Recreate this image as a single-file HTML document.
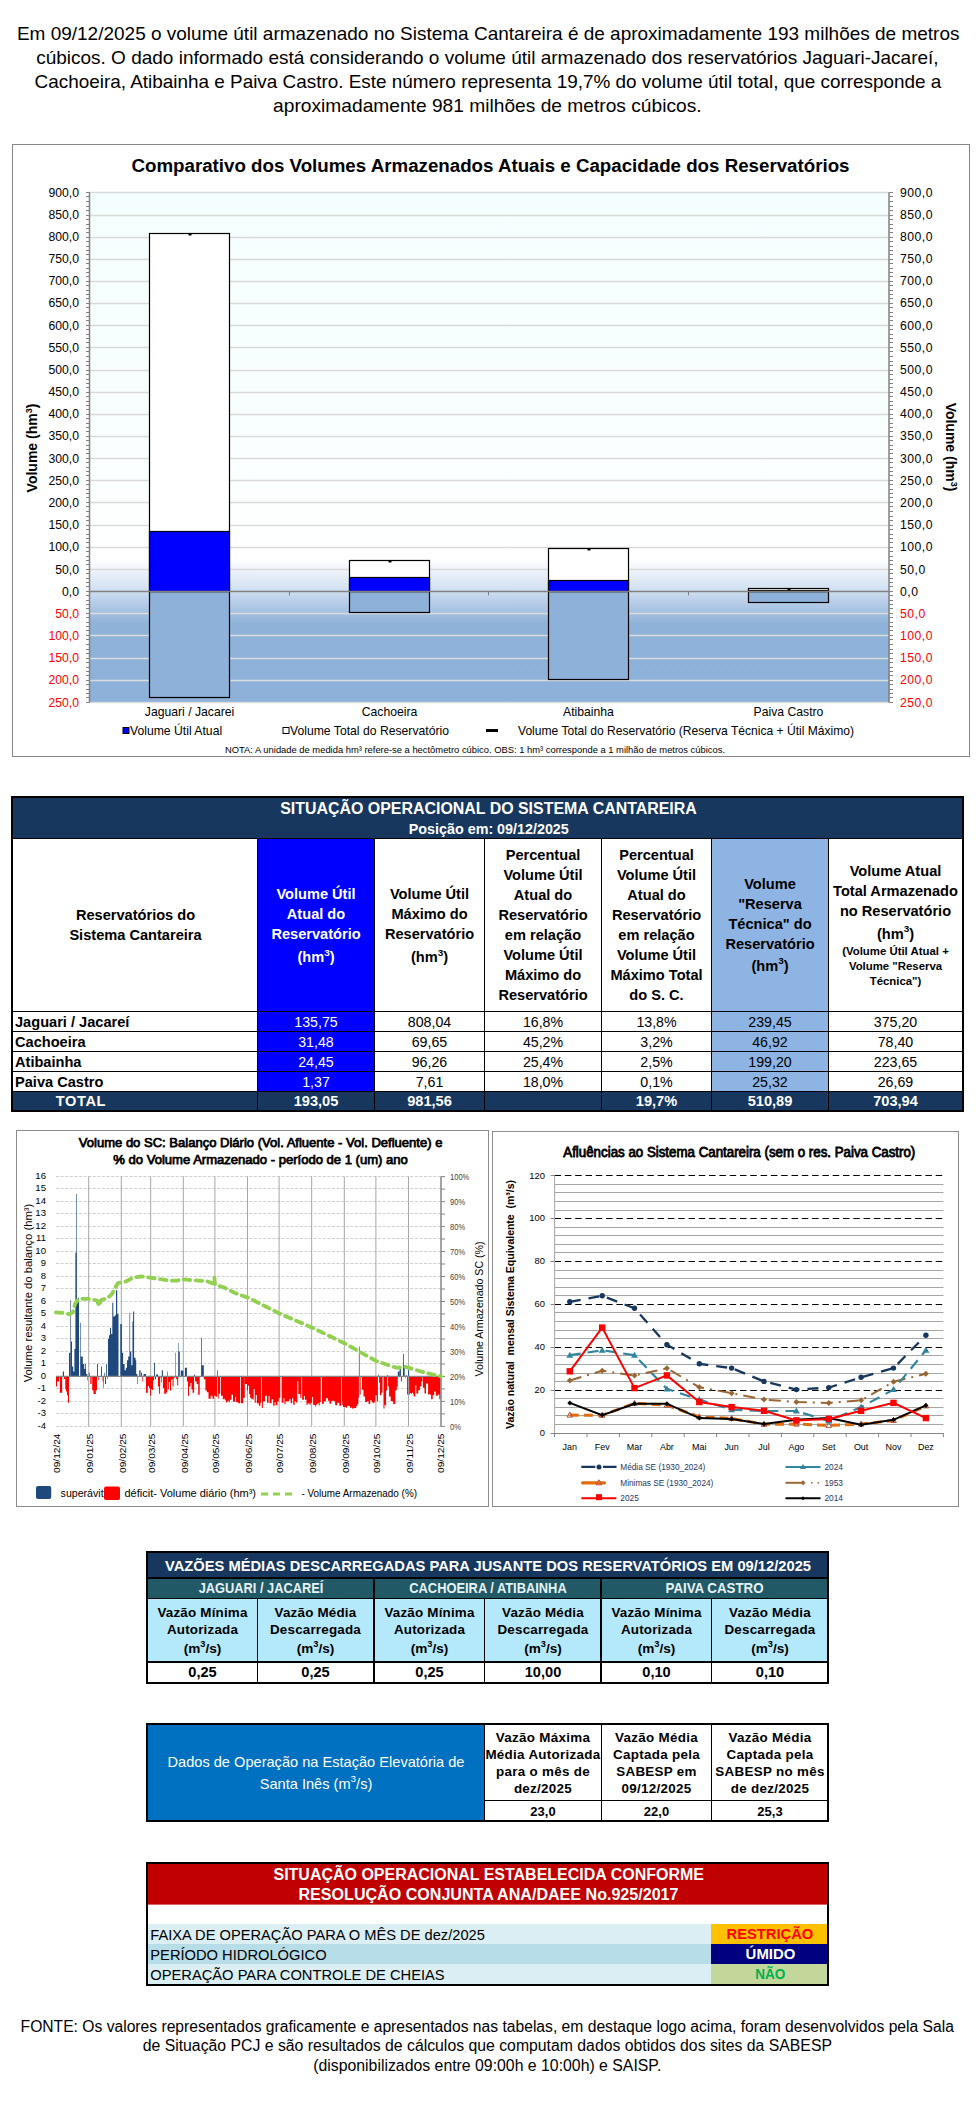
<!DOCTYPE html>
<html><head><meta charset="utf-8"><title>Cantareira</title>
<style>
html,body{margin:0;padding:0;background:#fff;}
body{width:976px;height:2126px;position:relative;overflow:hidden;font-family:"Liberation Sans",sans-serif;color:#000;}
.a{position:absolute;white-space:nowrap;}
.c{text-align:center;}
.b{font-weight:bold;}
svg{position:absolute;overflow:visible;}
sup{font-size:65%;vertical-align:top;position:relative;top:-1px;}
</style></head><body>

<svg style="left:0;top:0" width="976" height="130" viewBox="0 0 976 130" font-family="Liberation Sans">
<text x="16.9" y="39.6" font-size="19.00" textLength="942.6" lengthAdjust="spacingAndGlyphs">Em 09/12/2025 o volume útil armazenado no Sistema Cantareira é de aproximadamente 193 milhões de metros</text>
<text x="36.2" y="63.7" font-size="19.00" textLength="902.4" lengthAdjust="spacingAndGlyphs">cúbicos. O dado informado está considerando o volume útil armazenado dos reservatórios Jaguari-Jacareí,</text>
<text x="34.6" y="87.6" font-size="19.00" textLength="906.7" lengthAdjust="spacingAndGlyphs">Cachoeira, Atibainha e Paiva Castro. Este número representa 19,7% do volume útil total, que corresponde a</text>
<text x="273.1" y="111.5" font-size="19.00" textLength="428.5" lengthAdjust="spacingAndGlyphs">aproximadamente 981 milhões de metros cúbicos.</text>
</svg>
<svg style="left:0;top:130px" width="976" height="640" viewBox="0 130 976 640">
<defs><linearGradient id="g1" x1="0" y1="0" x2="0" y2="1" gradientUnits="objectBoundingBox">
<stop offset="0" stop-color="#f3fcff"/><stop offset="0.72" stop-color="#fdfeff"/>
<stop offset="0.78" stop-color="#eef3fa"/><stop offset="0.78" stop-color="#eef3fa"/>
<stop offset="0.785" stop-color="#c9daee"/><stop offset="0.86" stop-color="#8db1d8"/><stop offset="1" stop-color="#8db1d8"/>
</linearGradient></defs>
<rect x="12.5" y="144.5" width="957" height="612" fill="#fff" stroke="#868686" stroke-width="1"/>
<defs><linearGradient id="gt" x1="0" y1="192.3" x2="0" y2="702.4" gradientUnits="userSpaceOnUse">
<stop offset="0.0000" stop-color="#f5fefe"/>
<stop offset="0.4072" stop-color="#f8fefe"/>
<stop offset="0.7169" stop-color="#ffffff"/>
<stop offset="0.7326" stop-color="#f4f7fc"/>
<stop offset="0.7816" stop-color="#cfdff0"/>
<stop offset="0.7993" stop-color="#bcd0ea"/>
<stop offset="0.8463" stop-color="#8eb2d8"/>
<stop offset="1.0000" stop-color="#8db1d8"/>
</linearGradient></defs>
<rect x="89.5" y="192.3" width="800" height="510.1" fill="url(#gt)"/>
<line x1="89.5" x2="889.5" y1="192.5" y2="192.5" stroke="#d9d9d9" stroke-width="1.3"/>
<line x1="89.5" x2="889.5" y1="215.5" y2="215.5" stroke="#d9d9d9" stroke-width="1.3"/>
<line x1="89.5" x2="889.5" y1="237.5" y2="237.5" stroke="#d9d9d9" stroke-width="1.3"/>
<line x1="89.5" x2="889.5" y1="259.5" y2="259.5" stroke="#d9d9d9" stroke-width="1.3"/>
<line x1="89.5" x2="889.5" y1="281.5" y2="281.5" stroke="#d9d9d9" stroke-width="1.3"/>
<line x1="89.5" x2="889.5" y1="303.5" y2="303.5" stroke="#d9d9d9" stroke-width="1.3"/>
<line x1="89.5" x2="889.5" y1="325.5" y2="325.5" stroke="#d9d9d9" stroke-width="1.3"/>
<line x1="89.5" x2="889.5" y1="347.5" y2="347.5" stroke="#d9d9d9" stroke-width="1.3"/>
<line x1="89.5" x2="889.5" y1="370.5" y2="370.5" stroke="#d9d9d9" stroke-width="1.3"/>
<line x1="89.5" x2="889.5" y1="392.5" y2="392.5" stroke="#d9d9d9" stroke-width="1.3"/>
<line x1="89.5" x2="889.5" y1="414.5" y2="414.5" stroke="#d9d9d9" stroke-width="1.3"/>
<line x1="89.5" x2="889.5" y1="436.5" y2="436.5" stroke="#d9d9d9" stroke-width="1.3"/>
<line x1="89.5" x2="889.5" y1="458.5" y2="458.5" stroke="#d9d9d9" stroke-width="1.3"/>
<line x1="89.5" x2="889.5" y1="480.5" y2="480.5" stroke="#d9d9d9" stroke-width="1.3"/>
<line x1="89.5" x2="889.5" y1="502.5" y2="502.5" stroke="#d9d9d9" stroke-width="1.3"/>
<line x1="89.5" x2="889.5" y1="525.5" y2="525.5" stroke="#d9d9d9" stroke-width="1.3"/>
<line x1="89.5" x2="889.5" y1="547.5" y2="547.5" stroke="#d9d9d9" stroke-width="1.3"/>
<line x1="89.5" x2="889.5" y1="569.5" y2="569.5" stroke="#d9d9d9" stroke-width="1.3"/>
<line x1="89.5" x2="889.5" y1="613.5" y2="613.5" stroke="#dcdcdc" stroke-width="1.3"/>
<line x1="89.5" x2="889.5" y1="635.5" y2="635.5" stroke="#dcdcdc" stroke-width="1.3"/>
<line x1="89.5" x2="889.5" y1="658.5" y2="658.5" stroke="#dcdcdc" stroke-width="1.3"/>
<line x1="89.5" x2="889.5" y1="680.5" y2="680.5" stroke="#dcdcdc" stroke-width="1.3"/>
<line x1="89.5" x2="889.5" y1="702.5" y2="702.5" stroke="#dcdcdc" stroke-width="1.3"/>
<rect x="149.5" y="591.5" width="80" height="106.0" fill="#8db1d8" stroke="#000" stroke-width="1.2"/>
<rect x="149.5" y="233.5" width="80" height="358.0" fill="#fff" stroke="#000" stroke-width="1.2"/>
<rect x="149.5" y="531.5" width="80" height="60.0" fill="#0000ff" stroke="#000" stroke-width="1.2"/>
<path d="M188.5 233.5h3v2h-3z" fill="#000"/>
<rect x="349.5" y="591.5" width="80" height="21.0" fill="#8db1d8" stroke="#000" stroke-width="1.2"/>
<rect x="349.5" y="560.5" width="80" height="31.0" fill="#fff" stroke="#000" stroke-width="1.2"/>
<rect x="349.5" y="577.5" width="80" height="14.0" fill="#0000ff" stroke="#000" stroke-width="1.2"/>
<path d="M388.5 560.5h3v2h-3z" fill="#000"/>
<rect x="548.5" y="591.5" width="80" height="88.0" fill="#8db1d8" stroke="#000" stroke-width="1.2"/>
<rect x="548.5" y="548.5" width="80" height="43.0" fill="#fff" stroke="#000" stroke-width="1.2"/>
<rect x="548.5" y="580.5" width="80" height="11.0" fill="#0000ff" stroke="#000" stroke-width="1.2"/>
<path d="M587.5 548.5h3v2h-3z" fill="#000"/>
<rect x="748.5" y="591.5" width="80" height="11.0" fill="#8db1d8" stroke="#000" stroke-width="1.2"/>
<rect x="748.5" y="588.5" width="80" height="3.0" fill="#fff" stroke="#000" stroke-width="1.2"/>
<rect x="748.5" y="590.5" width="80" height="1.0" fill="#0000ff" stroke="#000" stroke-width="1.2"/>
<path d="M787.5 588.5h3v2h-3z" fill="#000"/>
<line x1="89.5" x2="889.5" y1="591.5" y2="591.5" stroke="#808080" stroke-width="1.5"/>
<line x1="289.5" x2="289.5" y1="591.5" y2="595.5" stroke="#808080" stroke-width="1"/>
<line x1="488.5" x2="488.5" y1="591.5" y2="595.5" stroke="#808080" stroke-width="1"/>
<line x1="688.5" x2="688.5" y1="591.5" y2="595.5" stroke="#808080" stroke-width="1"/>
<line x1="89.5" x2="89.5" y1="192.3" y2="702.4" stroke="#808080" stroke-width="1.5"/>
<line x1="889" x2="889" y1="192.3" y2="702.4" stroke="#808080" stroke-width="1.5"/>
<path d="M86 192.5h3.5M889.5 192.5h3.5M86 196.5h3.5M889.5 196.5h3.5M86 201.5h3.5M889.5 201.5h3.5M86 206.5h3.5M889.5 206.5h3.5M86 210.5h3.5M889.5 210.5h3.5M86 215.5h3.5M889.5 215.5h3.5M86 219.5h3.5M889.5 219.5h3.5M86 224.5h3.5M889.5 224.5h3.5M86 228.5h3.5M889.5 228.5h3.5M86 232.5h3.5M889.5 232.5h3.5M86 237.5h3.5M889.5 237.5h3.5M86 241.5h3.5M889.5 241.5h3.5M86 246.5h3.5M889.5 246.5h3.5M86 250.5h3.5M889.5 250.5h3.5M86 254.5h3.5M889.5 254.5h3.5M86 259.5h3.5M889.5 259.5h3.5M86 263.5h3.5M889.5 263.5h3.5M86 268.5h3.5M889.5 268.5h3.5M86 272.5h3.5M889.5 272.5h3.5M86 276.5h3.5M889.5 276.5h3.5M86 281.5h3.5M889.5 281.5h3.5M86 285.5h3.5M889.5 285.5h3.5M86 290.5h3.5M889.5 290.5h3.5M86 294.5h3.5M889.5 294.5h3.5M86 298.5h3.5M889.5 298.5h3.5M86 303.5h3.5M889.5 303.5h3.5M86 307.5h3.5M889.5 307.5h3.5M86 312.5h3.5M889.5 312.5h3.5M86 316.5h3.5M889.5 316.5h3.5M86 320.5h3.5M889.5 320.5h3.5M86 325.5h3.5M889.5 325.5h3.5M86 329.5h3.5M889.5 329.5h3.5M86 334.5h3.5M889.5 334.5h3.5M86 338.5h3.5M889.5 338.5h3.5M86 342.5h3.5M889.5 342.5h3.5M86 347.5h3.5M889.5 347.5h3.5M86 351.5h3.5M889.5 351.5h3.5M86 356.5h3.5M889.5 356.5h3.5M86 361.5h3.5M889.5 361.5h3.5M86 365.5h3.5M889.5 365.5h3.5M86 370.5h3.5M889.5 370.5h3.5M86 374.5h3.5M889.5 374.5h3.5M86 379.5h3.5M889.5 379.5h3.5M86 383.5h3.5M889.5 383.5h3.5M86 387.5h3.5M889.5 387.5h3.5M86 392.5h3.5M889.5 392.5h3.5M86 396.5h3.5M889.5 396.5h3.5M86 401.5h3.5M889.5 401.5h3.5M86 405.5h3.5M889.5 405.5h3.5M86 409.5h3.5M889.5 409.5h3.5M86 414.5h3.5M889.5 414.5h3.5M86 418.5h3.5M889.5 418.5h3.5M86 423.5h3.5M889.5 423.5h3.5M86 427.5h3.5M889.5 427.5h3.5M86 431.5h3.5M889.5 431.5h3.5M86 436.5h3.5M889.5 436.5h3.5M86 440.5h3.5M889.5 440.5h3.5M86 445.5h3.5M889.5 445.5h3.5M86 449.5h3.5M889.5 449.5h3.5M86 453.5h3.5M889.5 453.5h3.5M86 458.5h3.5M889.5 458.5h3.5M86 462.5h3.5M889.5 462.5h3.5M86 467.5h3.5M889.5 467.5h3.5M86 471.5h3.5M889.5 471.5h3.5M86 475.5h3.5M889.5 475.5h3.5M86 480.5h3.5M889.5 480.5h3.5M86 484.5h3.5M889.5 484.5h3.5M86 489.5h3.5M889.5 489.5h3.5M86 493.5h3.5M889.5 493.5h3.5M86 497.5h3.5M889.5 497.5h3.5M86 502.5h3.5M889.5 502.5h3.5M86 506.5h3.5M889.5 506.5h3.5M86 511.5h3.5M889.5 511.5h3.5M86 516.5h3.5M889.5 516.5h3.5M86 520.5h3.5M889.5 520.5h3.5M86 525.5h3.5M889.5 525.5h3.5M86 529.5h3.5M889.5 529.5h3.5M86 534.5h3.5M889.5 534.5h3.5M86 538.5h3.5M889.5 538.5h3.5M86 542.5h3.5M889.5 542.5h3.5M86 547.5h3.5M889.5 547.5h3.5M86 551.5h3.5M889.5 551.5h3.5M86 556.5h3.5M889.5 556.5h3.5M86 560.5h3.5M889.5 560.5h3.5M86 564.5h3.5M889.5 564.5h3.5M86 569.5h3.5M889.5 569.5h3.5M86 573.5h3.5M889.5 573.5h3.5M86 578.5h3.5M889.5 578.5h3.5M86 582.5h3.5M889.5 582.5h3.5M86 586.5h3.5M889.5 586.5h3.5M86 591.5h3.5M889.5 591.5h3.5M86 595.5h3.5M889.5 595.5h3.5M86 600.5h3.5M889.5 600.5h3.5M86 604.5h3.5M889.5 604.5h3.5M86 608.5h3.5M889.5 608.5h3.5M86 613.5h3.5M889.5 613.5h3.5M86 617.5h3.5M889.5 617.5h3.5M86 622.5h3.5M889.5 622.5h3.5M86 626.5h3.5M889.5 626.5h3.5M86 630.5h3.5M889.5 630.5h3.5M86 635.5h3.5M889.5 635.5h3.5M86 639.5h3.5M889.5 639.5h3.5M86 644.5h3.5M889.5 644.5h3.5M86 649.5h3.5M889.5 649.5h3.5M86 653.5h3.5M889.5 653.5h3.5M86 658.5h3.5M889.5 658.5h3.5M86 662.5h3.5M889.5 662.5h3.5M86 667.5h3.5M889.5 667.5h3.5M86 671.5h3.5M889.5 671.5h3.5M86 675.5h3.5M889.5 675.5h3.5M86 680.5h3.5M889.5 680.5h3.5M86 684.5h3.5M889.5 684.5h3.5M86 689.5h3.5M889.5 689.5h3.5M86 693.5h3.5M889.5 693.5h3.5M86 697.5h3.5M889.5 697.5h3.5M86 702.5h3.5M889.5 702.5h3.5" stroke="#808080" stroke-width="1" fill="none"/>
<text x="79" y="196.5" text-anchor="end" font-size="12.2" fill="#000" font-family="Liberation Sans">900,0</text>
<text x="900" y="196.5" font-size="12.2" letter-spacing="0.5" fill="#000" font-family="Liberation Sans">900,0</text>
<text x="79" y="218.6" text-anchor="end" font-size="12.2" fill="#000" font-family="Liberation Sans">850,0</text>
<text x="900" y="218.6" font-size="12.2" letter-spacing="0.5" fill="#000" font-family="Liberation Sans">850,0</text>
<text x="79" y="240.8" text-anchor="end" font-size="12.2" fill="#000" font-family="Liberation Sans">800,0</text>
<text x="900" y="240.8" font-size="12.2" letter-spacing="0.5" fill="#000" font-family="Liberation Sans">800,0</text>
<text x="79" y="263.0" text-anchor="end" font-size="12.2" fill="#000" font-family="Liberation Sans">750,0</text>
<text x="900" y="263.0" font-size="12.2" letter-spacing="0.5" fill="#000" font-family="Liberation Sans">750,0</text>
<text x="79" y="285.2" text-anchor="end" font-size="12.2" fill="#000" font-family="Liberation Sans">700,0</text>
<text x="900" y="285.2" font-size="12.2" letter-spacing="0.5" fill="#000" font-family="Liberation Sans">700,0</text>
<text x="79" y="307.4" text-anchor="end" font-size="12.2" fill="#000" font-family="Liberation Sans">650,0</text>
<text x="900" y="307.4" font-size="12.2" letter-spacing="0.5" fill="#000" font-family="Liberation Sans">650,0</text>
<text x="79" y="329.5" text-anchor="end" font-size="12.2" fill="#000" font-family="Liberation Sans">600,0</text>
<text x="900" y="329.5" font-size="12.2" letter-spacing="0.5" fill="#000" font-family="Liberation Sans">600,0</text>
<text x="79" y="351.7" text-anchor="end" font-size="12.2" fill="#000" font-family="Liberation Sans">550,0</text>
<text x="900" y="351.7" font-size="12.2" letter-spacing="0.5" fill="#000" font-family="Liberation Sans">550,0</text>
<text x="79" y="373.9" text-anchor="end" font-size="12.2" fill="#000" font-family="Liberation Sans">500,0</text>
<text x="900" y="373.9" font-size="12.2" letter-spacing="0.5" fill="#000" font-family="Liberation Sans">500,0</text>
<text x="79" y="396.1" text-anchor="end" font-size="12.2" fill="#000" font-family="Liberation Sans">450,0</text>
<text x="900" y="396.1" font-size="12.2" letter-spacing="0.5" fill="#000" font-family="Liberation Sans">450,0</text>
<text x="79" y="418.3" text-anchor="end" font-size="12.2" fill="#000" font-family="Liberation Sans">400,0</text>
<text x="900" y="418.3" font-size="12.2" letter-spacing="0.5" fill="#000" font-family="Liberation Sans">400,0</text>
<text x="79" y="440.4" text-anchor="end" font-size="12.2" fill="#000" font-family="Liberation Sans">350,0</text>
<text x="900" y="440.4" font-size="12.2" letter-spacing="0.5" fill="#000" font-family="Liberation Sans">350,0</text>
<text x="79" y="462.6" text-anchor="end" font-size="12.2" fill="#000" font-family="Liberation Sans">300,0</text>
<text x="900" y="462.6" font-size="12.2" letter-spacing="0.5" fill="#000" font-family="Liberation Sans">300,0</text>
<text x="79" y="484.8" text-anchor="end" font-size="12.2" fill="#000" font-family="Liberation Sans">250,0</text>
<text x="900" y="484.8" font-size="12.2" letter-spacing="0.5" fill="#000" font-family="Liberation Sans">250,0</text>
<text x="79" y="507.0" text-anchor="end" font-size="12.2" fill="#000" font-family="Liberation Sans">200,0</text>
<text x="900" y="507.0" font-size="12.2" letter-spacing="0.5" fill="#000" font-family="Liberation Sans">200,0</text>
<text x="79" y="529.2" text-anchor="end" font-size="12.2" fill="#000" font-family="Liberation Sans">150,0</text>
<text x="900" y="529.2" font-size="12.2" letter-spacing="0.5" fill="#000" font-family="Liberation Sans">150,0</text>
<text x="79" y="551.3" text-anchor="end" font-size="12.2" fill="#000" font-family="Liberation Sans">100,0</text>
<text x="900" y="551.3" font-size="12.2" letter-spacing="0.5" fill="#000" font-family="Liberation Sans">100,0</text>
<text x="79" y="573.5" text-anchor="end" font-size="12.2" fill="#000" font-family="Liberation Sans">50,0</text>
<text x="900" y="573.5" font-size="12.2" letter-spacing="0.5" fill="#000" font-family="Liberation Sans">50,0</text>
<text x="79" y="595.7" text-anchor="end" font-size="12.2" fill="#000" font-family="Liberation Sans">0,0</text>
<text x="900" y="595.7" font-size="12.2" letter-spacing="0.5" fill="#000" font-family="Liberation Sans">0,0</text>
<text x="79" y="617.9" text-anchor="end" font-size="12.2" fill="#ff0000" font-family="Liberation Sans">50,0</text>
<text x="900" y="617.9" font-size="12.2" letter-spacing="0.5" fill="#ff0000" font-family="Liberation Sans">50,0</text>
<text x="79" y="640.1" text-anchor="end" font-size="12.2" fill="#ff0000" font-family="Liberation Sans">100,0</text>
<text x="900" y="640.1" font-size="12.2" letter-spacing="0.5" fill="#ff0000" font-family="Liberation Sans">100,0</text>
<text x="79" y="662.2" text-anchor="end" font-size="12.2" fill="#ff0000" font-family="Liberation Sans">150,0</text>
<text x="900" y="662.2" font-size="12.2" letter-spacing="0.5" fill="#ff0000" font-family="Liberation Sans">150,0</text>
<text x="79" y="684.4" text-anchor="end" font-size="12.2" fill="#ff0000" font-family="Liberation Sans">200,0</text>
<text x="900" y="684.4" font-size="12.2" letter-spacing="0.5" fill="#ff0000" font-family="Liberation Sans">200,0</text>
<text x="79" y="706.6" text-anchor="end" font-size="12.2" fill="#ff0000" font-family="Liberation Sans">250,0</text>
<text x="900" y="706.6" font-size="12.2" letter-spacing="0.5" fill="#ff0000" font-family="Liberation Sans">250,0</text>
<text x="490.5" y="172" text-anchor="middle" font-size="18.7" font-weight="bold" font-family="Liberation Sans" textLength="718" lengthAdjust="spacingAndGlyphs">Comparativo dos Volumes Armazenados Atuais e Capacidade dos Reservatórios</text>
<text transform="translate(37 448) rotate(-90)" text-anchor="middle" font-size="14" font-weight="bold" font-family="Liberation Sans">Volume (hm<tspan font-size="9" dy="-5">3</tspan><tspan dy="5">)</tspan></text>
<text transform="translate(946 447) rotate(90)" text-anchor="middle" font-size="14" font-weight="bold" font-family="Liberation Sans">Volume (hm<tspan font-size="9" dy="-5">3</tspan><tspan dy="5">)</tspan></text>
<text x="189.5" y="716" text-anchor="middle" font-size="12.2" font-family="Liberation Sans">Jaguari / Jacarei</text>
<text x="389.5" y="716" text-anchor="middle" font-size="12.2" font-family="Liberation Sans">Cachoeira</text>
<text x="588.5" y="716" text-anchor="middle" font-size="12.2" font-family="Liberation Sans">Atibainha</text>
<text x="788.5" y="716" text-anchor="middle" font-size="12.2" font-family="Liberation Sans">Paiva Castro</text>
<rect x="123" y="727.5" width="6" height="6" fill="#0000ff" stroke="#000" stroke-width="1"/>
<text x="130" y="734.5" font-size="12.2" font-family="Liberation Sans">Volume Útil Atual</text>
<rect x="283" y="727.5" width="6" height="6" fill="#fff" stroke="#000" stroke-width="1"/>
<text x="290" y="734.5" font-size="12.2" font-family="Liberation Sans">Volume Total do Reservatório</text>
<rect x="486" y="729" width="12" height="3" fill="#000"/>
<text x="518" y="734.5" font-size="12.2" font-family="Liberation Sans" textLength="336" lengthAdjust="spacingAndGlyphs">Volume Total do Reservatório (Reserva Técnica + Útil Máximo)</text>
<text x="225" y="753" font-size="9" font-family="Liberation Sans" textLength="500" lengthAdjust="spacingAndGlyphs">NOTA: A unidade de medida hm³ refere-se a hectômetro cúbico. OBS: 1 hm³ corresponde a 1 milhão de metros cúbicos.</text>
</svg>
<svg style="left:0;top:780px" width="976" height="340" viewBox="0 780 976 340" font-family="Liberation Sans">
<rect x="11.0" y="796.0" width="953.0" height="316.0" fill="#000"/>
<rect x="13.0" y="798.0" width="949.0" height="312.0" fill="#fff"/>
<rect x="13.0" y="798.0" width="949.0" height="40.0" fill="#17375e"/>
<rect x="13.0" y="838.0" width="949.0" height="1.0" fill="#000"/>
<rect x="258.0" y="839.0" width="116.0" height="252.0" fill="#0000ff"/>
<rect x="712.0" y="839.0" width="116.0" height="252.0" fill="#8db4e2"/>
<rect x="13.0" y="1091.0" width="949.0" height="1.0" fill="#000"/>
<rect x="13.0" y="1092.0" width="949.0" height="18.0" fill="#17375e"/>
<rect x="13.0" y="1011.0" width="949.0" height="1.0" fill="#000"/>
<rect x="13.0" y="1031.0" width="949.0" height="1.0" fill="#000"/>
<rect x="13.0" y="1051.0" width="949.0" height="1.0" fill="#000"/>
<rect x="13.0" y="1071.0" width="949.0" height="1.0" fill="#000"/>
<rect x="257.0" y="839.0" width="1.0" height="271.0" fill="#000"/>
<rect x="374.0" y="839.0" width="1.0" height="271.0" fill="#000"/>
<rect x="484.0" y="839.0" width="1.0" height="271.0" fill="#000"/>
<rect x="601.0" y="839.0" width="1.0" height="271.0" fill="#000"/>
<rect x="711.0" y="839.0" width="1.0" height="271.0" fill="#000"/>
<rect x="828.0" y="839.0" width="1.0" height="271.0" fill="#000"/>
<text x="488.5" y="814.0" font-size="16.00" font-weight="bold" text-anchor="middle" fill="#fff" textLength="416.5" lengthAdjust="spacingAndGlyphs">SITUAÇÃO OPERACIONAL DO SISTEMA CANTAREIRA</text>
<text x="488.8" y="834.0" font-size="14.40" font-weight="bold" text-anchor="middle" fill="#fff" textLength="160.0" lengthAdjust="spacingAndGlyphs">Posição em: 09/12/2025</text>
<text x="135.5" y="920.0" font-size="14.60" font-weight="bold" text-anchor="middle">Reservatórios do</text>
<text x="135.5" y="940.0" font-size="14.60" font-weight="bold" text-anchor="middle">Sistema Cantareira</text>
<text x="316.0" y="899.0" font-size="14.60" font-weight="bold" text-anchor="middle" fill="#fff">Volume Útil</text>
<text x="316.0" y="919.0" font-size="14.60" font-weight="bold" text-anchor="middle" fill="#fff">Atual do</text>
<text x="316.0" y="939.0" font-size="14.60" font-weight="bold" text-anchor="middle" fill="#fff">Reservatório</text>
<text x="316.0" y="962.0" font-size="14.60" font-weight="bold" text-anchor="middle" fill="#fff">(hm<tspan font-size="68%" dy="-6.5">3</tspan><tspan dy="6.5">)</tspan></text>
<text x="429.5" y="899.0" font-size="14.60" font-weight="bold" text-anchor="middle">Volume Útil</text>
<text x="429.5" y="919.0" font-size="14.60" font-weight="bold" text-anchor="middle">Máximo do</text>
<text x="429.5" y="939.0" font-size="14.60" font-weight="bold" text-anchor="middle">Reservatório</text>
<text x="429.5" y="962.0" font-size="14.60" font-weight="bold" text-anchor="middle">(hm<tspan font-size="68%" dy="-6.5">3</tspan><tspan dy="6.5">)</tspan></text>
<text x="543.0" y="860.0" font-size="14.60" font-weight="bold" text-anchor="middle">Percentual</text>
<text x="543.0" y="880.0" font-size="14.60" font-weight="bold" text-anchor="middle">Volume Útil</text>
<text x="543.0" y="900.0" font-size="14.60" font-weight="bold" text-anchor="middle">Atual do</text>
<text x="543.0" y="920.0" font-size="14.60" font-weight="bold" text-anchor="middle">Reservatório</text>
<text x="543.0" y="940.0" font-size="14.60" font-weight="bold" text-anchor="middle">em relação</text>
<text x="543.0" y="960.0" font-size="14.60" font-weight="bold" text-anchor="middle">Volume Útil</text>
<text x="543.0" y="980.0" font-size="14.60" font-weight="bold" text-anchor="middle">Máximo do</text>
<text x="543.0" y="1000.0" font-size="14.60" font-weight="bold" text-anchor="middle">Reservatório</text>
<text x="656.5" y="860.0" font-size="14.60" font-weight="bold" text-anchor="middle">Percentual</text>
<text x="656.5" y="880.0" font-size="14.60" font-weight="bold" text-anchor="middle">Volume Útil</text>
<text x="656.5" y="900.0" font-size="14.60" font-weight="bold" text-anchor="middle">Atual do</text>
<text x="656.5" y="920.0" font-size="14.60" font-weight="bold" text-anchor="middle">Reservatório</text>
<text x="656.5" y="940.0" font-size="14.60" font-weight="bold" text-anchor="middle">em relação</text>
<text x="656.5" y="960.0" font-size="14.60" font-weight="bold" text-anchor="middle">Volume Útil</text>
<text x="656.5" y="980.0" font-size="14.60" font-weight="bold" text-anchor="middle">Máximo Total</text>
<text x="656.5" y="1000.0" font-size="14.60" font-weight="bold" text-anchor="middle">do S. C.</text>
<text x="770.0" y="888.5" font-size="14.60" font-weight="bold" text-anchor="middle">Volume</text>
<text x="770.0" y="908.5" font-size="14.60" font-weight="bold" text-anchor="middle">"Reserva</text>
<text x="770.0" y="928.5" font-size="14.60" font-weight="bold" text-anchor="middle">Técnica" do</text>
<text x="770.0" y="948.5" font-size="14.60" font-weight="bold" text-anchor="middle">Reservatório</text>
<text x="770.0" y="970.5" font-size="14.60" font-weight="bold" text-anchor="middle">(hm<tspan font-size="68%" dy="-6.5">3</tspan><tspan dy="6.5">)</tspan></text>
<text x="895.5" y="875.5" font-size="14.60" font-weight="bold" text-anchor="middle">Volume Atual</text>
<text x="895.5" y="895.5" font-size="14.60" font-weight="bold" text-anchor="middle">Total Armazenado</text>
<text x="895.5" y="915.5" font-size="14.60" font-weight="bold" text-anchor="middle">no Reservatório</text>
<text x="895.5" y="938.5" font-size="14.60" font-weight="bold" text-anchor="middle">(hm<tspan font-size="68%" dy="-6.5">3</tspan><tspan dy="6.5">)</tspan></text>
<text x="895.5" y="954.7" font-size="11.40" font-weight="bold" text-anchor="middle">(Volume Útil Atual +</text>
<text x="895.5" y="969.7" font-size="11.40" font-weight="bold" text-anchor="middle">Volume "Reserva</text>
<text x="895.5" y="984.5" font-size="11.40" font-weight="bold" text-anchor="middle">Técnica")</text>
<text x="15.0" y="1026.8" font-size="14.60" font-weight="bold">Jaguari / Jacareí</text>
<text x="316.0" y="1026.8" font-size="14.20" text-anchor="middle" fill="#fff">135,75</text>
<text x="429.5" y="1026.8" font-size="14.20" text-anchor="middle">808,04</text>
<text x="543.0" y="1026.8" font-size="14.20" text-anchor="middle">16,8%</text>
<text x="656.5" y="1026.8" font-size="14.20" text-anchor="middle">13,8%</text>
<text x="770.0" y="1026.8" font-size="14.20" text-anchor="middle">239,45</text>
<text x="895.5" y="1026.8" font-size="14.20" text-anchor="middle">375,20</text>
<text x="15.0" y="1046.8" font-size="14.60" font-weight="bold">Cachoeira</text>
<text x="316.0" y="1046.8" font-size="14.20" text-anchor="middle" fill="#fff">31,48</text>
<text x="429.5" y="1046.8" font-size="14.20" text-anchor="middle">69,65</text>
<text x="543.0" y="1046.8" font-size="14.20" text-anchor="middle">45,2%</text>
<text x="656.5" y="1046.8" font-size="14.20" text-anchor="middle">3,2%</text>
<text x="770.0" y="1046.8" font-size="14.20" text-anchor="middle">46,92</text>
<text x="895.5" y="1046.8" font-size="14.20" text-anchor="middle">78,40</text>
<text x="15.0" y="1066.8" font-size="14.60" font-weight="bold">Atibainha</text>
<text x="316.0" y="1066.8" font-size="14.20" text-anchor="middle" fill="#fff">24,45</text>
<text x="429.5" y="1066.8" font-size="14.20" text-anchor="middle">96,26</text>
<text x="543.0" y="1066.8" font-size="14.20" text-anchor="middle">25,4%</text>
<text x="656.5" y="1066.8" font-size="14.20" text-anchor="middle">2,5%</text>
<text x="770.0" y="1066.8" font-size="14.20" text-anchor="middle">199,20</text>
<text x="895.5" y="1066.8" font-size="14.20" text-anchor="middle">223,65</text>
<text x="15.0" y="1086.8" font-size="14.60" font-weight="bold">Paiva Castro</text>
<text x="316.0" y="1086.8" font-size="14.20" text-anchor="middle" fill="#fff">1,37</text>
<text x="429.5" y="1086.8" font-size="14.20" text-anchor="middle">7,61</text>
<text x="543.0" y="1086.8" font-size="14.20" text-anchor="middle">18,0%</text>
<text x="656.5" y="1086.8" font-size="14.20" text-anchor="middle">0,1%</text>
<text x="770.0" y="1086.8" font-size="14.20" text-anchor="middle">25,32</text>
<text x="895.5" y="1086.8" font-size="14.20" text-anchor="middle">26,69</text>
<text x="81.0" y="1105.7" font-size="14.60" font-weight="bold" text-anchor="middle" fill="#fff" letter-spacing="0.6">TOTAL</text>
<text x="316.0" y="1105.7" font-size="14.60" font-weight="bold" text-anchor="middle" fill="#fff">193,05</text>
<text x="429.5" y="1105.7" font-size="14.60" font-weight="bold" text-anchor="middle" fill="#fff">981,56</text>
<text x="656.5" y="1105.7" font-size="14.60" font-weight="bold" text-anchor="middle" fill="#fff">19,7%</text>
<text x="770.0" y="1105.7" font-size="14.60" font-weight="bold" text-anchor="middle" fill="#fff">510,89</text>
<text x="895.5" y="1105.7" font-size="14.60" font-weight="bold" text-anchor="middle" fill="#fff">703,94</text>
</svg>
<svg style="left:0;top:1120px" width="500" height="400" viewBox="0 1120 500 400" font-family="Liberation Sans">
<rect x="16.5" y="1130.5" width="472" height="376" fill="#fff" stroke="#8c8c8c" stroke-width="1"/>
<line x1="56.0" x2="441.0" y1="1176.5" y2="1176.5" stroke="#d0d0d0" stroke-width="1" stroke-dasharray="3,1.6"/>
<line x1="56.0" x2="441.0" y1="1188.5" y2="1188.5" stroke="#d0d0d0" stroke-width="1" stroke-dasharray="3,1.6"/>
<line x1="56.0" x2="441.0" y1="1201.5" y2="1201.5" stroke="#d0d0d0" stroke-width="1" stroke-dasharray="3,1.6"/>
<line x1="56.0" x2="441.0" y1="1213.5" y2="1213.5" stroke="#d0d0d0" stroke-width="1" stroke-dasharray="3,1.6"/>
<line x1="56.0" x2="441.0" y1="1226.5" y2="1226.5" stroke="#d0d0d0" stroke-width="1" stroke-dasharray="3,1.6"/>
<line x1="56.0" x2="441.0" y1="1238.5" y2="1238.5" stroke="#d0d0d0" stroke-width="1" stroke-dasharray="3,1.6"/>
<line x1="56.0" x2="441.0" y1="1251.5" y2="1251.5" stroke="#d0d0d0" stroke-width="1" stroke-dasharray="3,1.6"/>
<line x1="56.0" x2="441.0" y1="1263.5" y2="1263.5" stroke="#d0d0d0" stroke-width="1" stroke-dasharray="3,1.6"/>
<line x1="56.0" x2="441.0" y1="1276.5" y2="1276.5" stroke="#d0d0d0" stroke-width="1" stroke-dasharray="3,1.6"/>
<line x1="56.0" x2="441.0" y1="1288.5" y2="1288.5" stroke="#d0d0d0" stroke-width="1" stroke-dasharray="3,1.6"/>
<line x1="56.0" x2="441.0" y1="1301.5" y2="1301.5" stroke="#d0d0d0" stroke-width="1" stroke-dasharray="3,1.6"/>
<line x1="56.0" x2="441.0" y1="1313.5" y2="1313.5" stroke="#d0d0d0" stroke-width="1" stroke-dasharray="3,1.6"/>
<line x1="56.0" x2="441.0" y1="1326.5" y2="1326.5" stroke="#d0d0d0" stroke-width="1" stroke-dasharray="3,1.6"/>
<line x1="56.0" x2="441.0" y1="1338.5" y2="1338.5" stroke="#d0d0d0" stroke-width="1" stroke-dasharray="3,1.6"/>
<line x1="56.0" x2="441.0" y1="1351.5" y2="1351.5" stroke="#d0d0d0" stroke-width="1" stroke-dasharray="3,1.6"/>
<line x1="56.0" x2="441.0" y1="1363.5" y2="1363.5" stroke="#d0d0d0" stroke-width="1" stroke-dasharray="3,1.6"/>
<line x1="56.0" x2="441.0" y1="1388.5" y2="1388.5" stroke="#d0d0d0" stroke-width="1" stroke-dasharray="3,1.6"/>
<line x1="56.0" x2="441.0" y1="1401.5" y2="1401.5" stroke="#d0d0d0" stroke-width="1" stroke-dasharray="3,1.6"/>
<line x1="56.0" x2="441.0" y1="1413.5" y2="1413.5" stroke="#d0d0d0" stroke-width="1" stroke-dasharray="3,1.6"/>
<line x1="56.0" x2="441.0" y1="1426.5" y2="1426.5" stroke="#d0d0d0" stroke-width="1" stroke-dasharray="3,1.6"/>
<line x1="88.7" x2="88.7" y1="1176.4" y2="1426.4" stroke="#a6a6a6" stroke-width="1"/>
<line x1="121.3" x2="121.3" y1="1176.4" y2="1426.4" stroke="#a6a6a6" stroke-width="1"/>
<line x1="150.7" x2="150.7" y1="1176.4" y2="1426.4" stroke="#a6a6a6" stroke-width="1"/>
<line x1="183.3" x2="183.3" y1="1176.4" y2="1426.4" stroke="#a6a6a6" stroke-width="1"/>
<line x1="214.9" x2="214.9" y1="1176.4" y2="1426.4" stroke="#a6a6a6" stroke-width="1"/>
<line x1="247.5" x2="247.5" y1="1176.4" y2="1426.4" stroke="#a6a6a6" stroke-width="1"/>
<line x1="279.1" x2="279.1" y1="1176.4" y2="1426.4" stroke="#a6a6a6" stroke-width="1"/>
<line x1="311.7" x2="311.7" y1="1176.4" y2="1426.4" stroke="#a6a6a6" stroke-width="1"/>
<line x1="344.3" x2="344.3" y1="1176.4" y2="1426.4" stroke="#a6a6a6" stroke-width="1"/>
<line x1="375.9" x2="375.9" y1="1176.4" y2="1426.4" stroke="#a6a6a6" stroke-width="1"/>
<line x1="408.5" x2="408.5" y1="1176.4" y2="1426.4" stroke="#a6a6a6" stroke-width="1"/>
<path d="M62.80 1376.40h1.00V1371.40h-1.00zM63.80 1376.40h0.20V1371.40h-0.20zM69.00 1376.40h1.00V1352.65h-1.00zM70.00 1376.40h0.20V1352.65h-0.20zM70.20 1376.40h0.60V1300.15h-0.60zM71.00 1376.40h1.00V1341.40h-1.00zM72.00 1376.40h1.00V1366.40h-1.00zM73.00 1376.40h0.20V1366.40h-0.20zM73.20 1376.40h1.00V1371.40h-1.00zM74.20 1376.40h0.20V1371.40h-0.20zM74.40 1376.40h1.00V1348.90h-1.00zM75.40 1376.40h0.90V1252.65h-0.90zM76.30 1376.40h0.60V1193.90h-0.60zM76.90 1376.40h1.00V1300.15h-1.00zM77.90 1376.40h0.20V1300.15h-0.20zM78.10 1376.40h0.90V1297.65h-0.90zM80.20 1376.40h0.60V1322.65h-0.60zM80.80 1376.40h1.00V1356.40h-1.00zM81.80 1376.40h1.00V1356.40h-1.00zM82.80 1376.40h1.00V1363.90h-1.00zM83.80 1376.40h0.40V1363.90h-0.40zM84.20 1376.40h1.00V1368.90h-1.00zM85.20 1376.40h0.80V1363.90h-0.80zM86.00 1376.40h1.00V1373.90h-1.00zM87.00 1376.40h0.30V1373.90h-0.30zM88.90 1376.40h0.80V1372.65h-0.80zM97.00 1376.40h0.90V1363.90h-0.90zM101.10 1376.40h0.90V1366.40h-0.90zM104.40 1376.40h0.60V1372.65h-0.60zM106.00 1376.40h0.80V1363.90h-0.80zM108.00 1376.40h1.00V1338.90h-1.00zM109.00 1376.40h1.00V1335.15h-1.00zM110.00 1376.40h1.00V1327.65h-1.00zM111.00 1376.40h1.00V1333.90h-1.00zM112.00 1376.40h0.30V1333.90h-0.30zM112.30 1376.40h1.00V1302.65h-1.00zM113.30 1376.40h1.00V1316.40h-1.00zM114.30 1376.40h0.50V1316.40h-0.50zM114.80 1376.40h1.00V1315.15h-1.00zM115.80 1376.40h0.20V1315.15h-0.20zM116.00 1376.40h1.00V1290.15h-1.00zM117.00 1376.40h0.20V1290.15h-0.20zM117.20 1376.40h1.00V1313.90h-1.00zM118.20 1376.40h0.30V1313.90h-0.30zM120.30 1376.40h1.00V1323.90h-1.00zM121.30 1376.40h0.60V1323.90h-0.60zM121.90 1376.40h1.00V1352.65h-1.00zM122.90 1376.40h0.20V1352.65h-0.20zM123.10 1376.40h1.00V1363.90h-1.00zM124.10 1376.40h0.50V1363.90h-0.50zM124.60 1376.40h1.00V1370.15h-1.00zM125.60 1376.40h0.20V1370.15h-0.20zM125.80 1376.40h1.00V1367.65h-1.00zM126.80 1376.40h0.20V1367.65h-0.20zM127.00 1376.40h1.00V1360.15h-1.00zM128.00 1376.40h0.20V1360.15h-0.20zM128.20 1376.40h1.00V1356.40h-1.00zM129.20 1376.40h0.30V1356.40h-0.30zM129.50 1376.40h0.60V1312.65h-0.60zM130.10 1376.40h1.00V1351.40h-1.00zM131.10 1376.40h0.20V1351.40h-0.20zM131.30 1376.40h1.00V1365.15h-1.00zM132.30 1376.40h0.20V1365.15h-0.20zM132.50 1376.40h0.60V1321.40h-0.60zM133.10 1376.40h1.00V1311.40h-1.00zM134.10 1376.40h1.00V1357.65h-1.00zM135.10 1376.40h0.50V1357.65h-0.50zM135.60 1376.40h0.60V1360.15h-0.60zM136.20 1376.40h1.00V1373.90h-1.00zM137.20 1376.40h0.20V1373.90h-0.20zM139.20 1376.40h1.00V1370.15h-1.00zM140.20 1376.40h0.30V1370.15h-0.30zM141.00 1376.40h1.00V1372.65h-1.00zM143.50 1376.40h1.00V1373.90h-1.00zM144.50 1376.40h1.00V1373.90h-1.00zM145.50 1376.40h0.50V1373.90h-0.50zM154.10 1376.40h0.90V1362.65h-0.90zM156.00 1376.40h1.00V1374.53h-1.00zM157.00 1376.40h1.00V1374.53h-1.00zM161.80 1376.40h1.00V1370.15h-1.00zM162.80 1376.40h0.10V1370.15h-0.10zM167.20 1376.40h0.60V1371.40h-0.60zM175.20 1376.40h0.50V1352.65h-0.50zM178.20 1376.40h0.50V1342.65h-0.50zM178.70 1376.40h1.00V1351.40h-1.00zM179.70 1376.40h0.10V1351.40h-0.10zM180.80 1376.40h0.80V1370.15h-0.80zM181.60 1376.40h1.00V1370.78h-1.00zM182.60 1376.40h0.70V1370.78h-0.70zM184.90 1376.40h1.00V1367.65h-1.00zM185.90 1376.40h1.00V1367.65h-1.00zM194.10 1376.40h1.00V1374.53h-1.00zM201.10 1376.40h0.70V1337.65h-0.70zM201.80 1376.40h1.00V1365.15h-1.00zM202.80 1376.40h1.00V1365.15h-1.00zM217.20 1376.40h0.70V1370.15h-0.70zM358.90 1376.40h0.70V1346.40h-0.70zM378.40 1376.40h0.70V1374.53h-0.70zM387.10 1376.40h1.00V1375.15h-1.00zM397.80 1376.40h1.00V1371.40h-1.00zM398.80 1376.40h0.60V1371.40h-0.60zM399.60 1376.40h1.00V1368.90h-1.00zM400.60 1376.40h0.30V1368.90h-0.30zM403.00 1376.40h0.80V1353.90h-0.80zM403.80 1376.40h0.90V1365.15h-0.90zM406.00 1376.40h0.90V1375.15h-0.90zM408.10 1376.40h1.00V1370.15h-1.00z" fill="#1f497d"/>
<path d="M56.00 1376.40h1.00V1386.40h-1.00zM57.00 1376.40h1.00V1381.40h-1.00zM58.00 1376.40h1.00V1381.40h-1.00zM59.80 1376.40h1.00V1392.65h-1.00zM60.80 1376.40h1.00V1392.65h-1.00zM61.80 1376.40h0.40V1392.65h-0.40zM64.00 1376.40h1.00V1378.90h-1.00zM65.30 1376.40h0.70V1388.90h-0.70zM66.00 1376.40h1.00V1391.40h-1.00zM67.00 1376.40h1.00V1395.15h-1.00zM68.00 1376.40h1.00V1402.65h-1.00zM87.30 1376.40h0.60V1380.15h-0.60zM90.30 1376.40h1.00V1383.90h-1.00zM91.30 1376.40h0.30V1383.90h-0.30zM92.20 1376.40h1.00V1390.15h-1.00zM93.20 1376.40h0.30V1390.15h-0.30zM93.50 1376.40h1.00V1393.90h-1.00zM94.50 1376.40h1.00V1393.90h-1.00zM95.50 1376.40h0.30V1393.90h-0.30zM95.80 1376.40h1.00V1390.15h-1.00zM96.80 1376.40h0.20V1390.15h-0.20zM98.30 1376.40h0.60V1380.15h-0.60zM102.60 1376.40h0.60V1381.40h-0.60zM103.20 1376.40h0.60V1387.65h-0.60zM105.00 1376.40h1.00V1383.90h-1.00zM107.00 1376.40h0.60V1378.90h-0.60zM137.40 1376.40h0.60V1383.90h-0.60zM142.00 1376.40h0.60V1381.40h-0.60zM146.00 1376.40h1.00V1392.65h-1.00zM147.00 1376.40h0.80V1392.65h-0.80zM147.80 1376.40h0.20V1386.40h-0.20zM148.00 1376.40h1.00V1386.03h-1.00zM149.00 1376.40h1.00V1388.03h-1.00zM150.00 1376.40h0.90V1395.65h-0.90zM150.90 1376.40h1.00V1388.90h-1.00zM151.90 1376.40h0.20V1388.90h-0.20zM152.10 1376.40h1.00V1390.03h-1.00zM153.10 1376.40h1.00V1380.40h-1.00zM155.00 1376.40h1.00V1379.28h-1.00zM158.00 1376.40h1.00V1386.53h-1.00zM159.00 1376.40h0.10V1386.53h-0.10zM159.10 1376.40h1.00V1393.65h-1.00zM160.10 1376.40h1.00V1377.28h-1.00zM161.10 1376.40h0.70V1382.40h-0.70zM162.90 1376.40h1.00V1388.03h-1.00zM163.90 1376.40h0.30V1388.03h-0.30zM164.20 1376.40h1.00V1393.65h-1.00zM165.20 1376.40h1.00V1393.65h-1.00zM166.20 1376.40h0.20V1393.65h-0.20zM166.40 1376.40h0.80V1392.15h-0.80zM167.80 1376.40h1.00V1389.53h-1.00zM168.80 1376.40h1.00V1381.90h-1.00zM169.80 1376.40h0.20V1381.90h-0.20zM170.00 1376.40h1.00V1390.53h-1.00zM171.00 1376.40h0.10V1390.53h-0.10zM171.10 1376.40h1.00V1379.53h-1.00zM172.10 1376.40h0.50V1379.53h-0.50zM172.60 1376.40h1.00V1386.53h-1.00zM173.60 1376.40h1.00V1377.65h-1.00zM174.60 1376.40h0.20V1377.65h-0.20zM176.20 1376.40h1.00V1379.28h-1.00zM177.20 1376.40h1.00V1385.53h-1.00zM186.90 1376.40h1.00V1381.40h-1.00zM187.90 1376.40h0.10V1381.40h-0.10zM188.00 1376.40h1.00V1395.65h-1.00zM189.00 1376.40h1.00V1386.53h-1.00zM190.00 1376.40h0.50V1386.53h-0.50zM190.50 1376.40h1.00V1382.90h-1.00zM191.50 1376.40h1.00V1389.53h-1.00zM192.50 1376.40h0.10V1389.53h-0.10zM192.60 1376.40h1.00V1392.65h-1.00zM193.60 1376.40h0.50V1392.65h-0.50zM195.10 1376.40h1.00V1381.40h-1.00zM196.10 1376.40h0.60V1381.40h-0.60zM196.70 1376.40h1.00V1383.90h-1.00zM197.70 1376.40h0.50V1383.90h-0.50zM198.20 1376.40h1.00V1394.65h-1.00zM199.20 1376.40h0.50V1394.65h-0.50zM199.70 1376.40h1.00V1376.78h-1.00zM200.70 1376.40h0.10V1376.78h-0.10zM203.80 1376.40h1.00V1379.28h-1.00zM204.80 1376.40h0.60V1379.28h-0.60zM205.40 1376.40h1.00V1390.53h-1.00zM206.40 1376.40h0.50V1390.53h-0.50zM206.90 1376.40h1.00V1392.15h-1.00zM207.90 1376.40h0.60V1392.15h-0.60zM208.50 1376.40h1.00V1398.78h-1.00zM209.50 1376.40h1.00V1398.78h-1.00zM210.50 1376.40h0.20V1398.78h-0.20zM210.70 1376.40h1.00V1395.65h-1.00zM211.70 1376.40h0.80V1395.65h-0.80zM212.50 1376.40h1.00V1398.78h-1.00zM213.50 1376.40h0.60V1398.78h-0.60zM214.10 1376.40h1.00V1395.65h-1.00zM215.10 1376.40h0.50V1395.65h-0.50zM215.60 1376.40h1.00V1396.78h-1.00zM216.60 1376.40h0.60V1396.78h-0.60zM217.90 1376.40h0.80V1398.78h-0.80zM218.70 1376.40h1.00V1393.65h-1.00zM219.70 1376.40h0.50V1393.65h-0.50zM221.00 1376.40h1.00V1395.65h-1.00zM222.00 1376.40h0.80V1395.65h-0.80zM222.80 1376.40h1.00V1399.20h-1.00zM223.80 1376.40h1.00V1398.63h-1.00zM224.80 1376.40h1.00V1400.27h-1.00zM225.80 1376.40h0.10V1398.38h-0.10zM225.90 1376.40h1.00V1402.40h-1.00zM226.90 1376.40h1.00V1401.79h-1.00zM227.90 1376.40h1.00V1400.67h-1.00zM228.90 1376.40h1.00V1402.30h-1.00zM229.90 1376.40h0.10V1400.60h-0.10zM230.00 1376.40h1.00V1399.78h-1.00zM231.00 1376.40h0.50V1399.78h-0.50zM231.50 1376.40h1.00V1394.65h-1.00zM232.50 1376.40h0.50V1394.65h-0.50zM233.00 1376.40h1.00V1401.78h-1.00zM234.00 1376.40h1.00V1401.78h-1.00zM235.00 1376.40h0.10V1401.78h-0.10zM235.10 1376.40h1.00V1396.78h-1.00zM236.10 1376.40h1.00V1402.28h-1.00zM237.10 1376.40h1.00V1402.28h-1.00zM238.10 1376.40h0.10V1402.28h-0.10zM238.20 1376.40h1.00V1403.28h-1.00zM239.20 1376.40h1.00V1403.28h-1.00zM241.00 1376.40h1.00V1403.28h-1.00zM242.00 1376.40h1.00V1403.28h-1.00zM243.00 1376.40h0.30V1403.28h-0.30zM243.30 1376.40h1.00V1397.78h-1.00zM244.30 1376.40h0.50V1397.78h-0.50zM245.00 1376.40h1.00V1383.90h-1.00zM246.00 1376.40h1.00V1383.90h-1.00zM247.00 1376.40h1.00V1390.40h-1.00zM248.00 1376.40h0.10V1390.40h-0.10zM248.10 1376.40h1.00V1385.78h-1.00zM249.10 1376.40h1.00V1393.90h-1.00zM250.10 1376.40h1.00V1397.65h-1.00zM251.10 1376.40h1.00V1398.65h-1.00zM252.10 1376.40h0.60V1398.65h-0.60zM252.70 1376.40h1.00V1399.65h-1.00zM253.70 1376.40h1.00V1388.90h-1.00zM254.70 1376.40h1.00V1402.65h-1.00zM255.70 1376.40h0.10V1402.65h-0.10zM255.80 1376.40h1.00V1395.03h-1.00zM256.80 1376.40h1.00V1403.15h-1.00zM257.80 1376.40h1.00V1403.15h-1.00zM258.80 1376.40h1.00V1405.78h-1.00zM259.80 1376.40h0.60V1405.78h-0.60zM260.40 1376.40h0.80V1402.65h-0.80zM261.90 1376.40h1.00V1407.90h-1.00zM262.90 1376.40h1.00V1401.15h-1.00zM263.90 1376.40h1.00V1401.15h-1.00zM264.90 1376.40h0.10V1401.15h-0.10zM265.00 1376.40h1.00V1395.65h-1.00zM266.00 1376.40h1.00V1395.65h-1.00zM267.00 1376.40h1.00V1402.65h-1.00zM268.00 1376.40h0.60V1402.65h-0.60zM268.60 1376.40h1.00V1395.90h-1.00zM269.60 1376.40h1.00V1403.15h-1.00zM270.60 1376.40h1.00V1403.15h-1.00zM271.60 1376.40h1.00V1399.15h-1.00zM272.60 1376.40h0.60V1399.15h-0.60zM273.20 1376.40h1.00V1405.78h-1.00zM274.20 1376.40h0.50V1405.78h-0.50zM274.70 1376.40h1.00V1402.03h-1.00zM275.70 1376.40h1.00V1405.15h-1.00zM276.70 1376.40h0.60V1405.15h-0.60zM277.30 1376.40h1.00V1401.40h-1.00zM278.30 1376.40h0.50V1401.40h-0.50zM278.80 1376.40h1.00V1397.65h-1.00zM279.80 1376.40h0.50V1397.65h-0.50zM281.70 1376.40h1.00V1402.65h-1.00zM282.70 1376.40h0.70V1402.65h-0.70zM283.40 1376.40h1.00V1398.15h-1.00zM284.40 1376.40h1.00V1404.15h-1.00zM285.40 1376.40h0.10V1404.15h-0.10zM285.50 1376.40h1.00V1401.40h-1.00zM286.50 1376.40h0.50V1401.40h-0.50zM287.00 1376.40h1.00V1401.15h-1.00zM288.00 1376.40h1.00V1401.15h-1.00zM289.00 1376.40h0.10V1401.15h-0.10zM289.10 1376.40h1.00V1399.15h-1.00zM290.10 1376.40h0.50V1399.15h-0.50zM290.60 1376.40h1.00V1403.15h-1.00zM291.60 1376.40h0.50V1403.15h-0.50zM292.10 1376.40h1.00V1398.15h-1.00zM293.10 1376.40h0.10V1398.15h-0.10zM293.20 1376.40h1.00V1404.65h-1.00zM294.20 1376.40h0.50V1404.65h-0.50zM294.70 1376.40h1.00V1401.15h-1.00zM295.70 1376.40h0.50V1401.15h-0.50zM296.20 1376.40h1.00V1402.65h-1.00zM297.20 1376.40h0.10V1402.65h-0.10zM297.30 1376.40h1.00V1381.15h-1.00zM298.30 1376.40h1.00V1393.90h-1.00zM299.30 1376.40h1.00V1393.90h-1.00zM300.30 1376.40h1.00V1397.65h-1.00zM301.30 1376.40h0.10V1397.65h-0.10zM302.10 1376.40h1.00V1399.65h-1.00zM303.10 1376.40h0.80V1399.65h-0.80zM303.90 1376.40h1.00V1395.90h-1.00zM304.90 1376.40h1.00V1399.65h-1.00zM305.90 1376.40h0.60V1399.65h-0.60zM306.50 1376.40h1.00V1404.88h-1.00zM307.50 1376.40h1.00V1403.42h-1.00zM308.50 1376.40h1.00V1403.50h-1.00zM309.50 1376.40h1.00V1404.85h-1.00zM310.50 1376.40h0.10V1406.47h-0.10zM310.60 1376.40h1.00V1402.65h-1.00zM311.60 1376.40h0.50V1402.65h-0.50zM312.10 1376.40h1.00V1397.03h-1.00zM313.10 1376.40h1.00V1404.70h-1.00zM314.10 1376.40h1.00V1405.12h-1.00zM315.10 1376.40h0.60V1406.81h-0.60zM315.70 1376.40h1.00V1405.36h-1.00zM316.70 1376.40h1.00V1403.94h-1.00zM317.70 1376.40h1.00V1403.26h-1.00zM318.70 1376.40h1.00V1405.47h-1.00zM319.70 1376.40h1.00V1401.92h-1.00zM320.70 1376.40h0.10V1405.02h-0.10zM322.00 1376.40h1.00V1403.65h-1.00zM323.00 1376.40h0.90V1403.65h-0.90zM323.90 1376.40h1.00V1401.15h-1.00zM324.90 1376.40h1.00V1401.15h-1.00zM325.90 1376.40h1.00V1398.15h-1.00zM326.90 1376.40h1.00V1398.15h-1.00zM327.90 1376.40h0.10V1398.15h-0.10zM328.00 1376.40h1.00V1400.65h-1.00zM329.00 1376.40h0.50V1400.65h-0.50zM329.50 1376.40h1.00V1403.65h-1.00zM330.50 1376.40h0.60V1403.65h-0.60zM331.10 1376.40h1.00V1401.27h-1.00zM332.10 1376.40h1.00V1400.75h-1.00zM333.10 1376.40h1.00V1400.65h-1.00zM334.10 1376.40h1.00V1401.34h-1.00zM335.10 1376.40h0.10V1403.16h-0.10zM335.20 1376.40h1.00V1405.15h-1.00zM336.20 1376.40h1.00V1405.15h-1.00zM337.20 1376.40h1.00V1402.65h-1.00zM338.20 1376.40h1.00V1402.65h-1.00zM339.20 1376.40h0.10V1402.65h-0.10zM339.30 1376.40h1.00V1405.78h-1.00zM340.30 1376.40h1.00V1405.78h-1.00zM342.30 1376.40h1.00V1404.94h-1.00zM343.30 1376.40h1.00V1406.62h-1.00zM344.30 1376.40h0.70V1406.86h-0.70zM342.00 1376.40h1.00V1401.40h-1.00zM343.00 1376.40h1.00V1407.03h-1.00zM344.00 1376.40h1.00V1407.03h-1.00zM345.00 1376.40h0.10V1407.03h-0.10zM345.10 1376.40h1.00V1407.09h-1.00zM346.10 1376.40h1.00V1407.86h-1.00zM347.10 1376.40h1.00V1405.74h-1.00zM348.10 1376.40h1.00V1405.72h-1.00zM349.10 1376.40h1.00V1406.36h-1.00zM350.10 1376.40h0.10V1408.44h-0.10zM350.20 1376.40h1.00V1407.95h-1.00zM351.20 1376.40h1.00V1407.45h-1.00zM352.20 1376.40h1.00V1408.66h-1.00zM353.20 1376.40h1.00V1408.07h-1.00zM354.20 1376.40h0.10V1407.38h-0.10zM354.30 1376.40h1.00V1408.29h-1.00zM355.30 1376.40h1.00V1407.88h-1.00zM356.30 1376.40h1.00V1405.93h-1.00zM357.30 1376.40h0.10V1407.34h-0.10zM357.40 1376.40h1.00V1403.90h-1.00zM358.40 1376.40h0.50V1397.65h-0.50zM359.60 1376.40h1.00V1394.53h-1.00zM362.00 1376.40h1.00V1389.65h-1.00zM363.00 1376.40h0.50V1389.65h-0.50zM363.50 1376.40h1.00V1396.40h-1.00zM364.50 1376.40h0.60V1396.40h-0.60zM365.10 1376.40h1.00V1402.03h-1.00zM366.10 1376.40h1.00V1402.03h-1.00zM367.10 1376.40h1.00V1401.15h-1.00zM368.10 1376.40h0.50V1401.15h-0.50zM368.60 1376.40h1.00V1403.90h-1.00zM369.60 1376.40h0.60V1403.90h-0.60zM370.20 1376.40h1.00V1400.15h-1.00zM371.20 1376.40h0.50V1400.15h-0.50zM371.70 1376.40h1.00V1402.12h-1.00zM372.70 1376.40h1.00V1403.37h-1.00zM373.70 1376.40h1.00V1402.85h-1.00zM374.70 1376.40h0.60V1401.26h-0.60zM375.30 1376.40h1.00V1395.15h-1.00zM376.30 1376.40h0.50V1395.15h-0.50zM376.80 1376.40h1.00V1401.40h-1.00zM377.80 1376.40h0.10V1401.40h-0.10zM379.10 1376.40h0.80V1382.65h-0.80zM379.90 1376.40h1.00V1395.15h-1.00zM380.90 1376.40h0.50V1395.15h-0.50zM381.40 1376.40h1.00V1392.65h-1.00zM382.40 1376.40h0.10V1392.65h-0.10zM383.50 1376.40h1.00V1408.42h-1.00zM384.50 1376.40h1.00V1404.80h-1.00zM385.50 1376.40h0.60V1406.06h-0.60zM386.10 1376.40h1.00V1390.53h-1.00zM388.10 1376.40h1.00V1386.40h-1.00zM389.10 1376.40h1.00V1396.40h-1.00zM390.10 1376.40h0.60V1396.40h-0.60zM390.70 1376.40h1.00V1401.15h-1.00zM391.70 1376.40h1.00V1401.15h-1.00zM392.70 1376.40h0.50V1401.15h-0.50zM393.20 1376.40h1.00V1403.90h-1.00zM394.20 1376.40h1.00V1403.90h-1.00zM395.20 1376.40h0.10V1403.90h-0.10zM395.30 1376.40h1.00V1390.15h-1.00zM396.30 1376.40h0.50V1390.15h-0.50zM396.80 1376.40h1.00V1386.40h-1.00zM400.90 1376.40h1.00V1381.40h-1.00zM405.00 1376.40h1.00V1377.40h-1.00zM407.10 1376.40h1.00V1394.53h-1.00zM409.10 1376.40h1.00V1394.53h-1.00zM410.10 1376.40h1.00V1393.05h-1.00zM411.10 1376.40h1.00V1393.87h-1.00zM412.10 1376.40h1.00V1392.77h-1.00zM413.10 1376.40h0.60V1394.31h-0.60zM413.70 1376.40h1.00V1396.40h-1.00zM414.70 1376.40h0.60V1396.40h-0.60zM415.30 1376.40h1.00V1385.15h-1.00zM416.30 1376.40h1.00V1393.53h-1.00zM417.30 1376.40h1.00V1393.53h-1.00zM418.30 1376.40h1.00V1390.15h-1.00zM419.30 1376.40h0.60V1390.15h-0.60zM419.90 1376.40h1.00V1386.40h-1.00zM420.90 1376.40h0.50V1386.40h-0.50zM421.40 1376.40h1.00V1381.40h-1.00zM422.90 1376.40h1.00V1387.65h-1.00zM423.90 1376.40h0.60V1387.65h-0.60zM424.50 1376.40h1.00V1393.53h-1.00zM425.50 1376.40h0.50V1393.53h-0.50zM426.00 1376.40h1.00V1383.40h-1.00zM427.00 1376.40h1.00V1383.40h-1.00zM428.00 1376.40h0.10V1383.40h-0.10zM428.10 1376.40h1.00V1394.55h-1.00zM429.10 1376.40h1.00V1394.08h-1.00zM430.10 1376.40h1.00V1394.82h-1.00zM431.10 1376.40h1.00V1399.28h-1.00zM432.10 1376.40h0.60V1399.28h-0.60zM432.70 1376.40h1.00V1395.15h-1.00zM433.70 1376.40h0.50V1395.15h-0.50zM434.20 1376.40h1.00V1391.40h-1.00zM435.20 1376.40h0.60V1391.40h-0.60zM435.80 1376.40h1.00V1395.78h-1.00zM436.80 1376.40h1.00V1395.78h-1.00zM437.80 1376.40h1.00V1394.53h-1.00zM438.80 1376.40h0.50V1394.53h-0.50zM439.30 1376.40h1.00V1399.28h-1.00zM440.30 1376.40h0.30V1399.28h-0.30z" fill="#ff0000"/>
<line x1="56.0" x2="441.0" y1="1376.4" y2="1376.4" stroke="#868686" stroke-width="1.2"/>
<line x1="441.0" x2="441.0" y1="1176.6" y2="1426.4" stroke="#868686" stroke-width="1.5"/>
<path d="M441.0 1426.4h4M441.0 1413.9h4M441.0 1401.4h4M441.0 1388.9h4M441.0 1376.4h4M441.0 1364.0h4M441.0 1351.5h4M441.0 1339.0h4M441.0 1326.5h4M441.0 1314.0h4M441.0 1301.5h4M441.0 1289.0h4M441.0 1276.5h4M441.0 1264.0h4M441.0 1251.5h4M441.0 1239.0h4M441.0 1226.6h4M441.0 1214.1h4M441.0 1201.6h4M441.0 1189.1h4M441.0 1176.6h4" stroke="#868686" stroke-width="1" fill="none"/>
<polyline points="56.0,1312.3 62.0,1312.8 70.0,1314.3 73.0,1312.0 75.0,1304.0 78.0,1299.5 82.0,1298.8 90.0,1299.0 97.0,1300.5 99.2,1306.0 101.0,1300.0 107.0,1298.5 112.0,1294.0 115.0,1288.0 118.0,1283.0 126.0,1281.5 133.0,1277.5 142.0,1276.5 150.0,1277.7 160.0,1279.2 170.0,1280.7 177.0,1280.7 181.0,1279.2 189.0,1279.9 199.0,1280.7 207.0,1281.3 213.0,1283.5 214.4,1277.5 215.0,1284.5 225.0,1287.9 235.0,1293.0 248.0,1297.6 279.5,1313.5 311.6,1327.4 345.0,1343.5 375.6,1360.7 393.0,1366.8 398.0,1367.8 404.0,1366.5 414.0,1369.4 424.0,1372.4 441.0,1376.5" fill="none" stroke="#92d050" stroke-width="3.8" stroke-dasharray="6.5,5.5" stroke-linecap="round" stroke-linejoin="round"/>
<text x="46.0" y="1178.7" font-size="9.60" text-anchor="end" textLength="10.7" lengthAdjust="spacingAndGlyphs">16</text>
<text x="46.0" y="1191.2" font-size="9.60" text-anchor="end" textLength="10.7" lengthAdjust="spacingAndGlyphs">15</text>
<text x="46.0" y="1203.7" font-size="9.60" text-anchor="end" textLength="10.7" lengthAdjust="spacingAndGlyphs">14</text>
<text x="46.0" y="1216.2" font-size="9.60" text-anchor="end" textLength="10.7" lengthAdjust="spacingAndGlyphs">13</text>
<text x="46.0" y="1228.7" font-size="9.60" text-anchor="end" textLength="10.7" lengthAdjust="spacingAndGlyphs">12</text>
<text x="46.0" y="1241.2" font-size="9.60" text-anchor="end" textLength="9.9" lengthAdjust="spacingAndGlyphs">11</text>
<text x="46.0" y="1253.7" font-size="9.60" text-anchor="end" textLength="10.7" lengthAdjust="spacingAndGlyphs">10</text>
<text x="46.0" y="1266.2" font-size="9.60" text-anchor="end" textLength="5.3" lengthAdjust="spacingAndGlyphs">9</text>
<text x="46.0" y="1278.7" font-size="9.60" text-anchor="end" textLength="5.3" lengthAdjust="spacingAndGlyphs">8</text>
<text x="46.0" y="1291.2" font-size="9.60" text-anchor="end" textLength="5.3" lengthAdjust="spacingAndGlyphs">7</text>
<text x="46.0" y="1303.7" font-size="9.60" text-anchor="end" textLength="5.3" lengthAdjust="spacingAndGlyphs">6</text>
<text x="46.0" y="1316.2" font-size="9.60" text-anchor="end" textLength="5.3" lengthAdjust="spacingAndGlyphs">5</text>
<text x="46.0" y="1328.7" font-size="9.60" text-anchor="end" textLength="5.3" lengthAdjust="spacingAndGlyphs">4</text>
<text x="46.0" y="1341.2" font-size="9.60" text-anchor="end" textLength="5.3" lengthAdjust="spacingAndGlyphs">3</text>
<text x="46.0" y="1353.7" font-size="9.60" text-anchor="end" textLength="5.3" lengthAdjust="spacingAndGlyphs">2</text>
<text x="46.0" y="1366.2" font-size="9.60" text-anchor="end" textLength="5.3" lengthAdjust="spacingAndGlyphs">1</text>
<text x="46.0" y="1378.7" font-size="9.60" text-anchor="end" textLength="5.3" lengthAdjust="spacingAndGlyphs">0</text>
<text x="46.0" y="1391.2" font-size="9.60" text-anchor="end" textLength="8.5" lengthAdjust="spacingAndGlyphs">-1</text>
<text x="46.0" y="1403.7" font-size="9.60" text-anchor="end" textLength="8.5" lengthAdjust="spacingAndGlyphs">-2</text>
<text x="46.0" y="1416.2" font-size="9.60" text-anchor="end" textLength="8.5" lengthAdjust="spacingAndGlyphs">-3</text>
<text x="46.0" y="1428.7" font-size="9.60" text-anchor="end" textLength="8.5" lengthAdjust="spacingAndGlyphs">-4</text>
<text x="450.0" y="1429.6" font-size="9.20" fill="#404040" textLength="10.9" lengthAdjust="spacingAndGlyphs">0%</text>
<text x="450.0" y="1404.6" font-size="9.20" fill="#404040" textLength="15.1" lengthAdjust="spacingAndGlyphs">10%</text>
<text x="450.0" y="1379.6" font-size="9.20" fill="#404040" textLength="15.1" lengthAdjust="spacingAndGlyphs">20%</text>
<text x="450.0" y="1354.7" font-size="9.20" fill="#404040" textLength="15.1" lengthAdjust="spacingAndGlyphs">30%</text>
<text x="450.0" y="1329.7" font-size="9.20" fill="#404040" textLength="15.1" lengthAdjust="spacingAndGlyphs">40%</text>
<text x="450.0" y="1304.7" font-size="9.20" fill="#404040" textLength="15.1" lengthAdjust="spacingAndGlyphs">50%</text>
<text x="450.0" y="1279.7" font-size="9.20" fill="#404040" textLength="15.1" lengthAdjust="spacingAndGlyphs">60%</text>
<text x="450.0" y="1254.7" font-size="9.20" fill="#404040" textLength="15.1" lengthAdjust="spacingAndGlyphs">70%</text>
<text x="450.0" y="1229.8" font-size="9.20" fill="#404040" textLength="15.1" lengthAdjust="spacingAndGlyphs">80%</text>
<text x="450.0" y="1204.8" font-size="9.20" fill="#404040" textLength="15.1" lengthAdjust="spacingAndGlyphs">90%</text>
<text x="450.0" y="1179.8" font-size="9.20" fill="#404040" textLength="19.3" lengthAdjust="spacingAndGlyphs">100%</text>
<text transform="translate(60.2 1433.5) rotate(-90)" font-size="9.4" text-anchor="end" textLength="39.4" lengthAdjust="spacingAndGlyphs">09/12/24</text>
<text transform="translate(92.9 1433.5) rotate(-90)" font-size="9.4" text-anchor="end" textLength="39.4" lengthAdjust="spacingAndGlyphs">09/01/25</text>
<text transform="translate(125.5 1433.5) rotate(-90)" font-size="9.4" text-anchor="end" textLength="39.4" lengthAdjust="spacingAndGlyphs">09/02/25</text>
<text transform="translate(154.9 1433.5) rotate(-90)" font-size="9.4" text-anchor="end" textLength="39.4" lengthAdjust="spacingAndGlyphs">09/03/25</text>
<text transform="translate(187.5 1433.5) rotate(-90)" font-size="9.4" text-anchor="end" textLength="39.4" lengthAdjust="spacingAndGlyphs">09/04/25</text>
<text transform="translate(219.1 1433.5) rotate(-90)" font-size="9.4" text-anchor="end" textLength="39.4" lengthAdjust="spacingAndGlyphs">09/05/25</text>
<text transform="translate(251.7 1433.5) rotate(-90)" font-size="9.4" text-anchor="end" textLength="39.4" lengthAdjust="spacingAndGlyphs">09/06/25</text>
<text transform="translate(283.3 1433.5) rotate(-90)" font-size="9.4" text-anchor="end" textLength="39.4" lengthAdjust="spacingAndGlyphs">09/07/25</text>
<text transform="translate(315.9 1433.5) rotate(-90)" font-size="9.4" text-anchor="end" textLength="39.4" lengthAdjust="spacingAndGlyphs">09/08/25</text>
<text transform="translate(348.5 1433.5) rotate(-90)" font-size="9.4" text-anchor="end" textLength="39.4" lengthAdjust="spacingAndGlyphs">09/09/25</text>
<text transform="translate(380.1 1433.5) rotate(-90)" font-size="9.4" text-anchor="end" textLength="39.4" lengthAdjust="spacingAndGlyphs">09/10/25</text>
<text transform="translate(412.7 1433.5) rotate(-90)" font-size="9.4" text-anchor="end" textLength="39.4" lengthAdjust="spacingAndGlyphs">09/11/25</text>
<text transform="translate(444.2 1433.5) rotate(-90)" font-size="9.4" text-anchor="end" textLength="39.4" lengthAdjust="spacingAndGlyphs">09/12/25</text>
<text x="260.6" y="1147.1" font-size="13.00" text-anchor="middle" textLength="363.6" lengthAdjust="spacingAndGlyphs" stroke="#000" stroke-width="0.75">Volume do SC: Balanço Diário (Vol. Afluente - Vol. Defluente) e</text>
<text x="260.6" y="1163.8" font-size="13.00" text-anchor="middle" textLength="294.5" lengthAdjust="spacingAndGlyphs" stroke="#000" stroke-width="0.75">% do Volume Armazenado - período de 1 (um) ano</text>
<text transform="translate(31.8 1293) rotate(-90)" font-size="10.5" text-anchor="middle" textLength="178.7" lengthAdjust="spacingAndGlyphs">Volume resultante do balanço (hm³)</text>
<text transform="translate(482.8 1309) rotate(-90)" font-size="10.5" text-anchor="middle" textLength="135" lengthAdjust="spacingAndGlyphs">Volume Armazenado SC (%)</text>
<rect x="36" y="1486" width="15.2" height="13" rx="2" fill="#1f497d"/>
<text x="60.6" y="1497.0" font-size="10.60" textLength="43.0" lengthAdjust="spacingAndGlyphs">superávit</text>
<rect x="104" y="1486.5" width="16" height="13.5" rx="2" fill="#ff0000"/>
<text x="124.5" y="1497.0" font-size="10.60" textLength="131.5" lengthAdjust="spacingAndGlyphs">déficit-  Volume diário (hm³)</text>
<line x1="261" x2="294" y1="1494" y2="1494" stroke="#92d050" stroke-width="3" stroke-dasharray="7,5"/>
<text x="301.5" y="1497.0" font-size="10.60" textLength="115.5" lengthAdjust="spacingAndGlyphs">-  Volume Armazenado (%)</text>
</svg>
<svg style="left:480px;top:1120px" width="496" height="400" viewBox="480 1120 496 400" font-family="Liberation Sans">
<rect x="492.5" y="1131.5" width="466" height="375" fill="#fff" stroke="#8c8c8c" stroke-width="1"/>
<line x1="554.6" x2="943.4" y1="1424.5" y2="1424.5" stroke="#a6a6a6" stroke-width="1"/>
<line x1="554.6" x2="943.4" y1="1415.5" y2="1415.5" stroke="#a6a6a6" stroke-width="1"/>
<line x1="554.6" x2="943.4" y1="1407.5" y2="1407.5" stroke="#a6a6a6" stroke-width="1"/>
<line x1="554.6" x2="943.4" y1="1398.5" y2="1398.5" stroke="#a6a6a6" stroke-width="1"/>
<line x1="554.6" x2="943.4" y1="1381.5" y2="1381.5" stroke="#a6a6a6" stroke-width="1"/>
<line x1="554.6" x2="943.4" y1="1373.5" y2="1373.5" stroke="#a6a6a6" stroke-width="1"/>
<line x1="554.6" x2="943.4" y1="1364.5" y2="1364.5" stroke="#a6a6a6" stroke-width="1"/>
<line x1="554.6" x2="943.4" y1="1355.5" y2="1355.5" stroke="#a6a6a6" stroke-width="1"/>
<line x1="554.6" x2="943.4" y1="1338.5" y2="1338.5" stroke="#a6a6a6" stroke-width="1"/>
<line x1="554.6" x2="943.4" y1="1330.5" y2="1330.5" stroke="#a6a6a6" stroke-width="1"/>
<line x1="554.6" x2="943.4" y1="1321.5" y2="1321.5" stroke="#a6a6a6" stroke-width="1"/>
<line x1="554.6" x2="943.4" y1="1312.5" y2="1312.5" stroke="#a6a6a6" stroke-width="1"/>
<line x1="554.6" x2="943.4" y1="1295.5" y2="1295.5" stroke="#a6a6a6" stroke-width="1"/>
<line x1="554.6" x2="943.4" y1="1287.5" y2="1287.5" stroke="#a6a6a6" stroke-width="1"/>
<line x1="554.6" x2="943.4" y1="1278.5" y2="1278.5" stroke="#a6a6a6" stroke-width="1"/>
<line x1="554.6" x2="943.4" y1="1270.5" y2="1270.5" stroke="#a6a6a6" stroke-width="1"/>
<line x1="554.6" x2="943.4" y1="1252.5" y2="1252.5" stroke="#a6a6a6" stroke-width="1"/>
<line x1="554.6" x2="943.4" y1="1244.5" y2="1244.5" stroke="#a6a6a6" stroke-width="1"/>
<line x1="554.6" x2="943.4" y1="1235.5" y2="1235.5" stroke="#a6a6a6" stroke-width="1"/>
<line x1="554.6" x2="943.4" y1="1227.5" y2="1227.5" stroke="#a6a6a6" stroke-width="1"/>
<line x1="554.6" x2="943.4" y1="1210.5" y2="1210.5" stroke="#a6a6a6" stroke-width="1"/>
<line x1="554.6" x2="943.4" y1="1201.5" y2="1201.5" stroke="#a6a6a6" stroke-width="1"/>
<line x1="554.6" x2="943.4" y1="1192.5" y2="1192.5" stroke="#a6a6a6" stroke-width="1"/>
<line x1="554.6" x2="943.4" y1="1184.5" y2="1184.5" stroke="#a6a6a6" stroke-width="1"/>
<line x1="554.6" x2="943.4" y1="1390.5" y2="1390.5" stroke="#000" stroke-width="1" stroke-dasharray="6.5,3.8"/>
<line x1="550.6" x2="554.6" y1="1390.5" y2="1390.5" stroke="#868686" stroke-width="1"/>
<line x1="554.6" x2="943.4" y1="1347.5" y2="1347.5" stroke="#000" stroke-width="1" stroke-dasharray="6.5,3.8"/>
<line x1="550.6" x2="554.6" y1="1347.5" y2="1347.5" stroke="#868686" stroke-width="1"/>
<line x1="554.6" x2="943.4" y1="1304.5" y2="1304.5" stroke="#000" stroke-width="1" stroke-dasharray="6.5,3.8"/>
<line x1="550.6" x2="554.6" y1="1304.5" y2="1304.5" stroke="#868686" stroke-width="1"/>
<line x1="554.6" x2="943.4" y1="1261.5" y2="1261.5" stroke="#000" stroke-width="1" stroke-dasharray="6.5,3.8"/>
<line x1="550.6" x2="554.6" y1="1261.5" y2="1261.5" stroke="#868686" stroke-width="1"/>
<line x1="554.6" x2="943.4" y1="1218.5" y2="1218.5" stroke="#000" stroke-width="1" stroke-dasharray="6.5,3.8"/>
<line x1="550.6" x2="554.6" y1="1218.5" y2="1218.5" stroke="#868686" stroke-width="1"/>
<line x1="554.6" x2="943.4" y1="1175.5" y2="1175.5" stroke="#000" stroke-width="1" stroke-dasharray="6.5,3.8"/>
<line x1="550.6" x2="554.6" y1="1175.5" y2="1175.5" stroke="#868686" stroke-width="1"/>
<line x1="554.6" x2="554.6" y1="1175.7" y2="1433.1" stroke="#a6a6a6" stroke-width="1"/>
<line x1="550.6" x2="943.4" y1="1433.5" y2="1433.5" stroke="#868686" stroke-width="1"/>
<path d="M554.6 1433.1v4M587.0 1433.1v4M619.4 1433.1v4M651.8 1433.1v4M684.2 1433.1v4M716.6 1433.1v4M749.0 1433.1v4M781.4 1433.1v4M813.8 1433.1v4M846.2 1433.1v4M878.6 1433.1v4M911.0 1433.1v4M943.4 1433.1v4" stroke="#868686" stroke-width="1"/>
<text x="545.0" y="1435.9" font-size="9.40" text-anchor="end" textLength="5.2" lengthAdjust="spacingAndGlyphs">0</text>
<text x="545.0" y="1393.0" font-size="9.40" text-anchor="end" textLength="10.4" lengthAdjust="spacingAndGlyphs">20</text>
<text x="545.0" y="1350.1" font-size="9.40" text-anchor="end" textLength="10.4" lengthAdjust="spacingAndGlyphs">40</text>
<text x="545.0" y="1307.2" font-size="9.40" text-anchor="end" textLength="10.4" lengthAdjust="spacingAndGlyphs">60</text>
<text x="545.0" y="1264.3" font-size="9.40" text-anchor="end" textLength="10.4" lengthAdjust="spacingAndGlyphs">80</text>
<text x="545.0" y="1221.4" font-size="9.40" text-anchor="end" textLength="15.7" lengthAdjust="spacingAndGlyphs">100</text>
<text x="545.0" y="1178.5" font-size="9.40" text-anchor="end" textLength="15.7" lengthAdjust="spacingAndGlyphs">120</text>
<text x="569.8" y="1450.3" font-size="9.40" text-anchor="middle" textLength="14.4" lengthAdjust="spacingAndGlyphs">Jan</text>
<text x="602.2" y="1450.3" font-size="9.40" text-anchor="middle" textLength="14.9" lengthAdjust="spacingAndGlyphs">Fev</text>
<text x="634.5" y="1450.3" font-size="9.40" text-anchor="middle" textLength="15.4" lengthAdjust="spacingAndGlyphs">Mar</text>
<text x="666.9" y="1450.3" font-size="9.40" text-anchor="middle" textLength="13.9" lengthAdjust="spacingAndGlyphs">Abr</text>
<text x="699.3" y="1450.3" font-size="9.40" text-anchor="middle" textLength="14.4" lengthAdjust="spacingAndGlyphs">Mai</text>
<text x="731.6" y="1450.3" font-size="9.40" text-anchor="middle" textLength="14.4" lengthAdjust="spacingAndGlyphs">Jun</text>
<text x="764.0" y="1450.3" font-size="9.40" text-anchor="middle" textLength="11.4" lengthAdjust="spacingAndGlyphs">Jul</text>
<text x="796.4" y="1450.3" font-size="9.40" text-anchor="middle" textLength="15.9" lengthAdjust="spacingAndGlyphs">Ago</text>
<text x="828.8" y="1450.3" font-size="9.40" text-anchor="middle" textLength="13.4" lengthAdjust="spacingAndGlyphs">Set</text>
<text x="861.1" y="1450.3" font-size="9.40" text-anchor="middle" textLength="14.4" lengthAdjust="spacingAndGlyphs">Out</text>
<text x="893.5" y="1450.3" font-size="9.40" text-anchor="middle" textLength="15.9" lengthAdjust="spacingAndGlyphs">Nov</text>
<text x="925.9" y="1450.3" font-size="9.40" text-anchor="middle" textLength="15.9" lengthAdjust="spacingAndGlyphs">Dez</text>
<polyline points="569.8,1415.1 602.2,1415.3 634.5,1403.3 666.9,1405.2 699.3,1416.8 731.6,1418.5 764.0,1424.3 796.4,1424.1 828.8,1425.4 861.1,1424.1 893.5,1420.4 925.9,1405.9" fill="none" stroke="#e46c0a" stroke-width="3" stroke-dasharray="9,5"/>
<path d="M569.8 1412.1l-2.8 5h5.6z" fill="none" stroke="#b0503d" stroke-width="1"/>
<path d="M602.2 1412.3l-2.8 5h5.6z" fill="none" stroke="#b0503d" stroke-width="1"/>
<path d="M634.5 1400.3l-2.8 5h5.6z" fill="none" stroke="#b0503d" stroke-width="1"/>
<path d="M666.9 1402.2l-2.8 5h5.6z" fill="none" stroke="#b0503d" stroke-width="1"/>
<path d="M699.3 1413.8l-2.8 5h5.6z" fill="none" stroke="#b0503d" stroke-width="1"/>
<path d="M731.6 1415.5l-2.8 5h5.6z" fill="none" stroke="#b0503d" stroke-width="1"/>
<path d="M764.0 1421.3l-2.8 5h5.6z" fill="none" stroke="#b0503d" stroke-width="1"/>
<path d="M796.4 1421.1l-2.8 5h5.6z" fill="none" stroke="#b0503d" stroke-width="1"/>
<path d="M828.8 1422.4l-2.8 5h5.6z" fill="none" stroke="#b0503d" stroke-width="1"/>
<path d="M861.1 1421.1l-2.8 5h5.6z" fill="none" stroke="#b0503d" stroke-width="1"/>
<path d="M893.5 1417.4l-2.8 5h5.6z" fill="none" stroke="#b0503d" stroke-width="1"/>
<path d="M925.9 1402.9l-2.8 5h5.6z" fill="none" stroke="#b0503d" stroke-width="1"/>
<polyline points="569.8,1380.5 602.2,1370.7 634.5,1375.6 666.9,1368.3 699.3,1387.2 731.6,1393.2 764.0,1399.6 796.4,1402.0 828.8,1402.9 861.1,1400.3 893.5,1381.8 925.9,1373.7" fill="none" stroke="#996633" stroke-width="2" stroke-dasharray="12,6,2,6"/>
<path d="M569.8 1377.5l3 3l-3 3l-3 -3z" fill="#996633"/>
<path d="M602.2 1367.7l3 3l-3 3l-3 -3z" fill="#996633"/>
<path d="M634.5 1372.6l3 3l-3 3l-3 -3z" fill="#996633"/>
<path d="M666.9 1365.3l3 3l-3 3l-3 -3z" fill="#996633"/>
<path d="M699.3 1384.2l3 3l-3 3l-3 -3z" fill="#996633"/>
<path d="M731.6 1390.2l3 3l-3 3l-3 -3z" fill="#996633"/>
<path d="M764.0 1396.6l3 3l-3 3l-3 -3z" fill="#996633"/>
<path d="M796.4 1399.0l3 3l-3 3l-3 -3z" fill="#996633"/>
<path d="M828.8 1399.9l3 3l-3 3l-3 -3z" fill="#996633"/>
<path d="M861.1 1397.3l3 3l-3 3l-3 -3z" fill="#996633"/>
<path d="M893.5 1378.8l3 3l-3 3l-3 -3z" fill="#996633"/>
<path d="M925.9 1370.7l3 3l-3 3l-3 -3z" fill="#996633"/>
<polyline points="569.8,1355.2 602.2,1350.3 634.5,1355.2 666.9,1388.9 699.3,1399.6 731.6,1409.7 764.0,1411.0 796.4,1411.0 828.8,1421.1 861.1,1407.1 893.5,1389.6 925.9,1350.3" fill="none" stroke="#31859c" stroke-width="2.2" stroke-dasharray="11,7"/>
<path d="M569.8 1351.7l3.5 6h-7z" fill="#31859c"/>
<path d="M602.2 1346.8l3.5 6h-7z" fill="#31859c"/>
<path d="M634.5 1351.7l3.5 6h-7z" fill="#31859c"/>
<path d="M666.9 1385.4l3.5 6h-7z" fill="#31859c"/>
<path d="M699.3 1396.1l3.5 6h-7z" fill="#31859c"/>
<path d="M731.6 1406.2l3.5 6h-7z" fill="#31859c"/>
<path d="M764.0 1407.5l3.5 6h-7z" fill="#31859c"/>
<path d="M796.4 1407.5l3.5 6h-7z" fill="#31859c"/>
<path d="M828.8 1417.6l3.5 6h-7z" fill="#31859c"/>
<path d="M861.1 1403.6l3.5 6h-7z" fill="#31859c"/>
<path d="M893.5 1386.1l3.5 6h-7z" fill="#31859c"/>
<path d="M925.9 1346.8l3.5 6h-7z" fill="#31859c"/>
<polyline points="569.8,1402.9 602.2,1415.1 634.5,1403.7 666.9,1403.7 699.3,1418.1 731.6,1418.9 764.0,1424.1 796.4,1419.8 828.8,1418.1 861.1,1424.7 893.5,1419.8 925.9,1405.4" fill="none" stroke="#000" stroke-width="2"/>
<path d="M569.8 1400.4l2.5 2.5l-2.5 2.5l-2.5 -2.5z" fill="#000"/>
<path d="M602.2 1412.6l2.5 2.5l-2.5 2.5l-2.5 -2.5z" fill="#000"/>
<path d="M634.5 1401.2l2.5 2.5l-2.5 2.5l-2.5 -2.5z" fill="#000"/>
<path d="M666.9 1401.2l2.5 2.5l-2.5 2.5l-2.5 -2.5z" fill="#000"/>
<path d="M699.3 1415.6l2.5 2.5l-2.5 2.5l-2.5 -2.5z" fill="#000"/>
<path d="M731.6 1416.4l2.5 2.5l-2.5 2.5l-2.5 -2.5z" fill="#000"/>
<path d="M764.0 1421.6l2.5 2.5l-2.5 2.5l-2.5 -2.5z" fill="#000"/>
<path d="M796.4 1417.3l2.5 2.5l-2.5 2.5l-2.5 -2.5z" fill="#000"/>
<path d="M828.8 1415.6l2.5 2.5l-2.5 2.5l-2.5 -2.5z" fill="#000"/>
<path d="M861.1 1422.2l2.5 2.5l-2.5 2.5l-2.5 -2.5z" fill="#000"/>
<path d="M893.5 1417.3l2.5 2.5l-2.5 2.5l-2.5 -2.5z" fill="#000"/>
<path d="M925.9 1402.9l2.5 2.5l-2.5 2.5l-2.5 -2.5z" fill="#000"/>
<polyline points="569.8,1371.3 602.2,1327.6 634.5,1388.1 666.9,1375.4 699.3,1402.0 731.6,1407.1 764.0,1410.8 796.4,1420.4 828.8,1418.9 861.1,1410.8 893.5,1402.9 925.9,1418.1" fill="none" stroke="#ff0000" stroke-width="2"/>
<rect x="566.6" y="1368.1" width="6.4" height="6.4" fill="#ff0000"/>
<rect x="599.0" y="1324.4" width="6.4" height="6.4" fill="#ff0000"/>
<rect x="631.3" y="1384.9" width="6.4" height="6.4" fill="#ff0000"/>
<rect x="663.7" y="1372.2" width="6.4" height="6.4" fill="#ff0000"/>
<rect x="696.1" y="1398.8" width="6.4" height="6.4" fill="#ff0000"/>
<rect x="728.4" y="1403.9" width="6.4" height="6.4" fill="#ff0000"/>
<rect x="760.8" y="1407.6" width="6.4" height="6.4" fill="#ff0000"/>
<rect x="793.2" y="1417.2" width="6.4" height="6.4" fill="#ff0000"/>
<rect x="825.6" y="1415.7" width="6.4" height="6.4" fill="#ff0000"/>
<rect x="857.9" y="1407.6" width="6.4" height="6.4" fill="#ff0000"/>
<rect x="890.3" y="1399.7" width="6.4" height="6.4" fill="#ff0000"/>
<rect x="922.7" y="1414.9" width="6.4" height="6.4" fill="#ff0000"/>
<polyline points="569.8,1301.8 602.2,1295.8 634.5,1308.3 666.9,1344.7 699.3,1363.8 731.6,1368.1 764.0,1381.4 796.4,1389.6 828.8,1387.6 861.1,1377.3 893.5,1368.1 925.9,1335.3" fill="none" stroke="#17375e" stroke-width="2.3" stroke-dasharray="11,8"/>
<circle cx="569.8" cy="1301.8" r="2.7" fill="#17375e"/>
<circle cx="602.2" cy="1295.8" r="2.7" fill="#17375e"/>
<circle cx="634.5" cy="1308.3" r="2.7" fill="#17375e"/>
<circle cx="666.9" cy="1344.7" r="2.7" fill="#17375e"/>
<circle cx="699.3" cy="1363.8" r="2.7" fill="#17375e"/>
<circle cx="731.6" cy="1368.1" r="2.7" fill="#17375e"/>
<circle cx="764.0" cy="1381.4" r="2.7" fill="#17375e"/>
<circle cx="796.4" cy="1389.6" r="2.7" fill="#17375e"/>
<circle cx="828.8" cy="1387.6" r="2.7" fill="#17375e"/>
<circle cx="861.1" cy="1377.3" r="2.7" fill="#17375e"/>
<circle cx="893.5" cy="1368.1" r="2.7" fill="#17375e"/>
<circle cx="925.9" cy="1335.3" r="2.7" fill="#17375e"/>
<text x="739.3" y="1157.0" font-size="13.80" text-anchor="middle" textLength="352.0" lengthAdjust="spacingAndGlyphs" stroke="#000" stroke-width="0.8">Afluências ao Sistema Cantareira (sem o res. Paiva Castro)</text>
<text transform="translate(513.8 1304.4) rotate(-90)" font-size="10.8" font-weight="bold" text-anchor="middle" textLength="249" lengthAdjust="spacingAndGlyphs">Vazão natural&#160; mensal Sistema Equivalente&#160; (m³/s)</text>
<path d="M581.3 1466.9h14M603 1466.9h13.5" stroke="#17375e" stroke-width="2.2"/>
<circle cx="599" cy="1466.9" r="2.5" fill="#17375e"/>
<text x="620.3" y="1469.9" font-size="9.60" fill="#1f3864" textLength="85.0" lengthAdjust="spacingAndGlyphs">Média SE (1930_2024)</text>
<path d="M582.5 1482.8h22" stroke="#e46c0a" stroke-width="3.2" stroke-linecap="round"/>
<path d="M599 1479.8l-3 5h6z" fill="none" stroke="#c0504d" stroke-width="1"/>
<text x="620.3" y="1485.8" font-size="9.60" fill="#1f3864" textLength="93.0" lengthAdjust="spacingAndGlyphs">Minimas SE (1930_2024)</text>
<path d="M581.3 1498.2h35" stroke="#ff0000" stroke-width="2"/>
<rect x="596" y="1494.2" width="6" height="6" fill="#ff0000"/>
<text x="620.3" y="1501.2" font-size="9.60" fill="#1f3864" textLength="18.5" lengthAdjust="spacingAndGlyphs">2025</text>
<path d="M785.5 1466.9h35" stroke="#31859c" stroke-width="2"/>
<path d="M803 1463.9l3 5h-6z" fill="#31859c"/>
<text x="824.5" y="1469.9" font-size="9.60" fill="#1f3864" textLength="18.5" lengthAdjust="spacingAndGlyphs">2024</text>
<path d="M785.5 1482.8h16" stroke="#996633" stroke-width="2"/><path d="M811 1482.8h1.6M817.5 1482.8h1.6" stroke="#996633" stroke-width="1.6"/>
<path d="M803 1480.3l2.5 2.5l-2.5 2.5l-2.5 -2.5z" fill="#996633"/>
<text x="824.5" y="1485.8" font-size="9.60" fill="#1f3864" textLength="18.5" lengthAdjust="spacingAndGlyphs">1953</text>
<path d="M785.5 1498.2h35" stroke="#000" stroke-width="2"/>
<path d="M803 1496.2l2 2l-2 2l-2 -2z" fill="#000"/>
<text x="824.5" y="1501.2" font-size="9.60" fill="#1f3864" textLength="18.5" lengthAdjust="spacingAndGlyphs">2014</text>
</svg>
<svg style="left:0;top:1540px" width="976" height="586" viewBox="0 1540 976 586" font-family="Liberation Sans">
<rect x="146.0" y="1551.0" width="683.0" height="133.0" fill="#000"/>
<rect x="148.0" y="1553.0" width="679.0" height="24.0" fill="#17375e"/>
<rect x="148.0" y="1579.0" width="679.0" height="19.0" fill="#215967"/>
<rect x="148.0" y="1599.0" width="679.0" height="62.0" fill="#b3e9fb"/>
<rect x="148.0" y="1663.0" width="679.0" height="19.0" fill="#fff"/>
<rect x="373.0" y="1579.0" width="2.0" height="103.0" fill="#000"/>
<rect x="600.0" y="1579.0" width="2.0" height="103.0" fill="#000"/>
<rect x="257.0" y="1599.0" width="1.0" height="83.0" fill="#000"/>
<rect x="484.0" y="1599.0" width="1.0" height="83.0" fill="#000"/>
<rect x="711.0" y="1599.0" width="1.0" height="83.0" fill="#000"/>
<text x="488.0" y="1570.6" font-size="14.70" font-weight="bold" text-anchor="middle" fill="#fff" textLength="646.0" lengthAdjust="spacingAndGlyphs">VAZÕES MÉDIAS DESCARREGADAS PARA JUSANTE DOS RESERVATÓRIOS EM 09/12/2025</text>
<text x="261.0" y="1593.0" font-size="14.20" font-weight="bold" text-anchor="middle" fill="#e6f3f7" textLength="124.5" lengthAdjust="spacingAndGlyphs">JAGUARI / JACAREÍ</text>
<text x="488.0" y="1593.0" font-size="14.20" font-weight="bold" text-anchor="middle" fill="#e6f3f7" textLength="157.4" lengthAdjust="spacingAndGlyphs">CACHOEIRA / ATIBAINHA</text>
<text x="714.5" y="1593.0" font-size="14.20" font-weight="bold" text-anchor="middle" fill="#e6f3f7" textLength="98.0" lengthAdjust="spacingAndGlyphs">PAIVA CASTRO</text>
<text x="202.5" y="1616.8" font-size="13.40" font-weight="bold" text-anchor="middle" letter-spacing="0.2">Vazão Mínima</text>
<text x="202.5" y="1634.0" font-size="13.40" font-weight="bold" text-anchor="middle" letter-spacing="0.2">Autorizada</text>
<text x="202.5" y="1653.2" font-size="13.60" font-weight="bold" text-anchor="middle">(m<tspan font-size="68%" dy="-6.5">3</tspan><tspan dy="6.5">/s)</tspan></text>
<text x="315.5" y="1616.8" font-size="13.40" font-weight="bold" text-anchor="middle" letter-spacing="0.2">Vazão Média</text>
<text x="315.5" y="1634.0" font-size="13.40" font-weight="bold" text-anchor="middle" letter-spacing="0.2">Descarregada</text>
<text x="315.5" y="1653.2" font-size="13.60" font-weight="bold" text-anchor="middle">(m<tspan font-size="68%" dy="-6.5">3</tspan><tspan dy="6.5">/s)</tspan></text>
<text x="429.5" y="1616.8" font-size="13.40" font-weight="bold" text-anchor="middle" letter-spacing="0.2">Vazão Mínima</text>
<text x="429.5" y="1634.0" font-size="13.40" font-weight="bold" text-anchor="middle" letter-spacing="0.2">Autorizada</text>
<text x="429.5" y="1653.2" font-size="13.60" font-weight="bold" text-anchor="middle">(m<tspan font-size="68%" dy="-6.5">3</tspan><tspan dy="6.5">/s)</tspan></text>
<text x="543.0" y="1616.8" font-size="13.40" font-weight="bold" text-anchor="middle" letter-spacing="0.2">Vazão Média</text>
<text x="543.0" y="1634.0" font-size="13.40" font-weight="bold" text-anchor="middle" letter-spacing="0.2">Descarregada</text>
<text x="543.0" y="1653.2" font-size="13.60" font-weight="bold" text-anchor="middle">(m<tspan font-size="68%" dy="-6.5">3</tspan><tspan dy="6.5">/s)</tspan></text>
<text x="656.5" y="1616.8" font-size="13.40" font-weight="bold" text-anchor="middle" letter-spacing="0.2">Vazão Mínima</text>
<text x="656.5" y="1634.0" font-size="13.40" font-weight="bold" text-anchor="middle" letter-spacing="0.2">Autorizada</text>
<text x="656.5" y="1653.2" font-size="13.60" font-weight="bold" text-anchor="middle">(m<tspan font-size="68%" dy="-6.5">3</tspan><tspan dy="6.5">/s)</tspan></text>
<text x="770.0" y="1616.8" font-size="13.40" font-weight="bold" text-anchor="middle" letter-spacing="0.2">Vazão Média</text>
<text x="770.0" y="1634.0" font-size="13.40" font-weight="bold" text-anchor="middle" letter-spacing="0.2">Descarregada</text>
<text x="770.0" y="1653.2" font-size="13.60" font-weight="bold" text-anchor="middle">(m<tspan font-size="68%" dy="-6.5">3</tspan><tspan dy="6.5">/s)</tspan></text>
<text x="202.5" y="1677.2" font-size="14.60" font-weight="bold" text-anchor="middle">0,25</text>
<text x="315.5" y="1677.2" font-size="14.60" font-weight="bold" text-anchor="middle">0,25</text>
<text x="429.5" y="1677.2" font-size="14.60" font-weight="bold" text-anchor="middle">0,25</text>
<text x="543.0" y="1677.2" font-size="14.60" font-weight="bold" text-anchor="middle">10,00</text>
<text x="656.5" y="1677.2" font-size="14.60" font-weight="bold" text-anchor="middle">0,10</text>
<text x="770.0" y="1677.2" font-size="14.60" font-weight="bold" text-anchor="middle">0,10</text>
<rect x="146.0" y="1723.0" width="683.0" height="99.0" fill="#000"/>
<rect x="148.0" y="1725.0" width="679.0" height="95.0" fill="#fff"/>
<rect x="148.0" y="1725.0" width="336.0" height="95.0" fill="#0070c0"/>
<rect x="484.0" y="1725.0" width="1.0" height="95.0" fill="#000"/>
<rect x="601.0" y="1725.0" width="1.0" height="95.0" fill="#000"/>
<rect x="711.0" y="1725.0" width="1.0" height="95.0" fill="#000"/>
<rect x="485.0" y="1800.0" width="342.0" height="1.0" fill="#000"/>
<text x="316.0" y="1767.1" font-size="14.60" text-anchor="middle" fill="#fff" textLength="297.0" lengthAdjust="spacingAndGlyphs">Dados de Operação na Estação Elevatória de</text>
<text x="316.0" y="1788.8" font-size="14.60" text-anchor="middle" fill="#fff">Santa Inês (m<tspan font-size="68%" dy="-6.5">3</tspan><tspan dy="6.5">/s)</tspan></text>
<text x="543.0" y="1742.1" font-size="13.40" font-weight="bold" text-anchor="middle" letter-spacing="0.3">Vazão Máxima</text>
<text x="543.0" y="1759.1" font-size="13.40" font-weight="bold" text-anchor="middle" letter-spacing="0.3">Média Autorizada</text>
<text x="543.0" y="1776.1" font-size="13.40" font-weight="bold" text-anchor="middle" letter-spacing="0.3">para o mês de</text>
<text x="543.0" y="1793.1" font-size="13.40" font-weight="bold" text-anchor="middle" letter-spacing="0.3">dez/2025</text>
<text x="543.0" y="1815.8" font-size="13.00" font-weight="bold" text-anchor="middle" textLength="25.3" lengthAdjust="spacingAndGlyphs">23,0</text>
<text x="656.5" y="1742.1" font-size="13.40" font-weight="bold" text-anchor="middle" letter-spacing="0.3">Vazão Média</text>
<text x="656.5" y="1759.1" font-size="13.40" font-weight="bold" text-anchor="middle" letter-spacing="0.3">Captada pela</text>
<text x="656.5" y="1776.1" font-size="13.40" font-weight="bold" text-anchor="middle" letter-spacing="0.3">SABESP em</text>
<text x="656.5" y="1793.1" font-size="13.40" font-weight="bold" text-anchor="middle" letter-spacing="0.3">09/12/2025</text>
<text x="656.5" y="1815.8" font-size="13.00" font-weight="bold" text-anchor="middle" textLength="25.3" lengthAdjust="spacingAndGlyphs">22,0</text>
<text x="770.0" y="1742.1" font-size="13.40" font-weight="bold" text-anchor="middle" letter-spacing="0.3">Vazão Média</text>
<text x="770.0" y="1759.1" font-size="13.40" font-weight="bold" text-anchor="middle" letter-spacing="0.3">Captada pela</text>
<text x="770.0" y="1776.1" font-size="13.40" font-weight="bold" text-anchor="middle" letter-spacing="0.3">SABESP no mês</text>
<text x="770.0" y="1793.1" font-size="13.40" font-weight="bold" text-anchor="middle" letter-spacing="0.3">de dez/2025</text>
<text x="770.0" y="1815.8" font-size="13.00" font-weight="bold" text-anchor="middle" textLength="25.3" lengthAdjust="spacingAndGlyphs">25,3</text>
<rect x="146.0" y="1862.0" width="683.0" height="124.0" fill="#000"/>
<rect x="148.0" y="1864.0" width="679.0" height="120.0" fill="#fff"/>
<rect x="148.0" y="1864.0" width="679.0" height="40.6" fill="#c00000"/>
<rect x="148.0" y="1924.0" width="563.0" height="20.0" fill="#daeef3"/>
<rect x="148.0" y="1944.0" width="563.0" height="20.0" fill="#b7dde8"/>
<rect x="148.0" y="1964.0" width="563.0" height="20.0" fill="#daeef3"/>
<rect x="711.0" y="1924.0" width="116.0" height="20.0" fill="#ffc000"/>
<rect x="711.0" y="1944.0" width="116.0" height="20.0" fill="#000080"/>
<rect x="711.0" y="1964.0" width="116.0" height="20.0" fill="#c4d79b"/>
<text x="488.7" y="1879.5" font-size="16.00" font-weight="bold" text-anchor="middle" fill="#fff" textLength="430.4" lengthAdjust="spacingAndGlyphs">SITUAÇÃO OPERACIONAL ESTABELECIDA CONFORME</text>
<text x="488.5" y="1899.8" font-size="16.00" font-weight="bold" text-anchor="middle" fill="#fff" textLength="380.0" lengthAdjust="spacingAndGlyphs">RESOLUÇÃO CONJUNTA ANA/DAEE No.925/2017</text>
<text x="150.3" y="1940.4" font-size="14.70" textLength="334.6" lengthAdjust="spacingAndGlyphs">FAIXA DE OPERAÇÃO PARA O MÊS DE dez/2025</text>
<text x="150.3" y="1959.9" font-size="14.70">PERÍODO HIDROLÓGICO</text>
<text x="150.3" y="1979.8" font-size="14.70">OPERAÇÃO PARA CONTROLE DE CHEIAS</text>
<text x="769.9" y="1939.4" font-size="14.70" font-weight="bold" text-anchor="middle" fill="#ff0000" textLength="86.8" lengthAdjust="spacingAndGlyphs">RESTRIÇÃO</text>
<text x="770.5" y="1959.0" font-size="14.70" font-weight="bold" text-anchor="middle" fill="#fff" textLength="49.8" lengthAdjust="spacingAndGlyphs">ÚMIDO</text>
<text x="770.3" y="1979.1" font-size="14.70" font-weight="bold" text-anchor="middle" fill="#00b050" textLength="30.2" lengthAdjust="spacingAndGlyphs">NÃO</text>
<text x="20.6" y="2031.6" font-size="15.60" textLength="933.3" lengthAdjust="spacingAndGlyphs">FONTE: Os valores representados graficamente e apresentados nas tabelas, em destaque logo acima, foram desenvolvidos pela Sala</text>
<text x="142.7" y="2051.4" font-size="15.60" textLength="689.3" lengthAdjust="spacingAndGlyphs">de Situação PCJ e são resultados de cálculos que computam dados obtidos dos sites da SABESP</text>
<text x="313.2" y="2070.9" font-size="15.60" textLength="348.1" lengthAdjust="spacingAndGlyphs">(disponibilizados entre 09:00h e 10:00h) e SAISP.</text>
</svg>
</body></html>
